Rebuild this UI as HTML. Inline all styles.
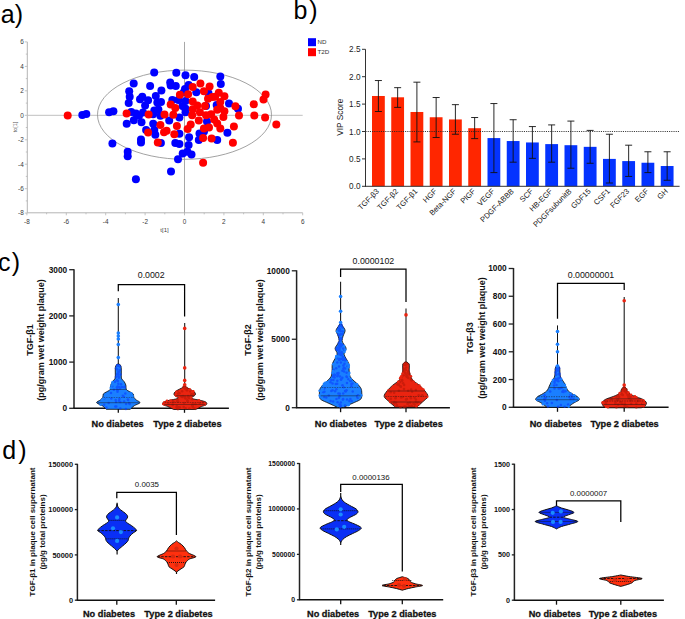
<!DOCTYPE html>
<html><head><meta charset="utf-8"><style>
html,body{margin:0;padding:0;background:#fff;}
svg{display:block;font-family:"Liberation Sans", sans-serif;}
</style></head><body>
<svg width="685" height="619" viewBox="0 0 685 619">
<text x="0.8" y="22.6" font-size="25" fill="#000">a<tspan dx="0.1">)</tspan></text>
<text x="293.6" y="18.7" font-size="25" fill="#000">b<tspan dx="1.7">)</tspan></text>
<text x="-2" y="270.8" font-size="25" fill="#000">c<tspan dx="1.3">)</tspan></text>
<text x="2.3" y="458.6" font-size="25" fill="#000">d<tspan dx="2.0">)</tspan></text>
<line x1="27.3" y1="41.9" x2="27.3" y2="212.8" stroke="#b4b4b4" stroke-width="1"/>
<line x1="27.3" y1="212.8" x2="302.7" y2="212.8" stroke="#b4b4b4" stroke-width="1"/>
<line x1="27.3" y1="115.3" x2="302.7" y2="115.3" stroke="#c0c0c0" stroke-width="1"/>
<line x1="184.5" y1="41.9" x2="184.5" y2="212.8" stroke="#a8a8a8" stroke-width="1"/>
<line x1="24.8" y1="213.1" x2="27.3" y2="213.1" stroke="#b4b4b4" stroke-width="0.8"/>
<line x1="26.9" y1="212.8" x2="26.9" y2="215.3" stroke="#b4b4b4" stroke-width="0.8"/>
<line x1="25.8" y1="200.9" x2="27.3" y2="200.9" stroke="#b4b4b4" stroke-width="0.8"/>
<line x1="46.6" y1="212.8" x2="46.6" y2="214.3" stroke="#b4b4b4" stroke-width="0.8"/>
<line x1="24.8" y1="188.7" x2="27.3" y2="188.7" stroke="#b4b4b4" stroke-width="0.8"/>
<line x1="66.3" y1="212.8" x2="66.3" y2="215.3" stroke="#b4b4b4" stroke-width="0.8"/>
<line x1="25.8" y1="176.4" x2="27.3" y2="176.4" stroke="#b4b4b4" stroke-width="0.8"/>
<line x1="86.0" y1="212.8" x2="86.0" y2="214.3" stroke="#b4b4b4" stroke-width="0.8"/>
<line x1="24.8" y1="164.2" x2="27.3" y2="164.2" stroke="#b4b4b4" stroke-width="0.8"/>
<line x1="105.7" y1="212.8" x2="105.7" y2="215.3" stroke="#b4b4b4" stroke-width="0.8"/>
<line x1="25.8" y1="152.0" x2="27.3" y2="152.0" stroke="#b4b4b4" stroke-width="0.8"/>
<line x1="125.4" y1="212.8" x2="125.4" y2="214.3" stroke="#b4b4b4" stroke-width="0.8"/>
<line x1="24.8" y1="139.8" x2="27.3" y2="139.8" stroke="#b4b4b4" stroke-width="0.8"/>
<line x1="145.1" y1="212.8" x2="145.1" y2="215.3" stroke="#b4b4b4" stroke-width="0.8"/>
<line x1="25.8" y1="127.5" x2="27.3" y2="127.5" stroke="#b4b4b4" stroke-width="0.8"/>
<line x1="164.8" y1="212.8" x2="164.8" y2="214.3" stroke="#b4b4b4" stroke-width="0.8"/>
<line x1="24.8" y1="115.3" x2="27.3" y2="115.3" stroke="#b4b4b4" stroke-width="0.8"/>
<line x1="184.5" y1="212.8" x2="184.5" y2="215.3" stroke="#b4b4b4" stroke-width="0.8"/>
<line x1="25.8" y1="103.1" x2="27.3" y2="103.1" stroke="#b4b4b4" stroke-width="0.8"/>
<line x1="204.2" y1="212.8" x2="204.2" y2="214.3" stroke="#b4b4b4" stroke-width="0.8"/>
<line x1="24.8" y1="90.8" x2="27.3" y2="90.8" stroke="#b4b4b4" stroke-width="0.8"/>
<line x1="223.9" y1="212.8" x2="223.9" y2="215.3" stroke="#b4b4b4" stroke-width="0.8"/>
<line x1="25.8" y1="78.6" x2="27.3" y2="78.6" stroke="#b4b4b4" stroke-width="0.8"/>
<line x1="243.6" y1="212.8" x2="243.6" y2="214.3" stroke="#b4b4b4" stroke-width="0.8"/>
<line x1="24.8" y1="66.4" x2="27.3" y2="66.4" stroke="#b4b4b4" stroke-width="0.8"/>
<line x1="263.3" y1="212.8" x2="263.3" y2="215.3" stroke="#b4b4b4" stroke-width="0.8"/>
<line x1="25.8" y1="54.1" x2="27.3" y2="54.1" stroke="#b4b4b4" stroke-width="0.8"/>
<line x1="283.0" y1="212.8" x2="283.0" y2="214.3" stroke="#b4b4b4" stroke-width="0.8"/>
<line x1="24.8" y1="41.9" x2="27.3" y2="41.9" stroke="#b4b4b4" stroke-width="0.8"/>
<line x1="302.7" y1="212.8" x2="302.7" y2="215.3" stroke="#b4b4b4" stroke-width="0.8"/>
<text x="23.8" y="215.4" font-size="6.4" fill="#383838" text-anchor="end">-8</text>
<text x="26.9" y="224.0" font-size="6.4" fill="#383838" text-anchor="middle">-8</text>
<text x="23.8" y="191.0" font-size="6.4" fill="#383838" text-anchor="end">-6</text>
<text x="66.3" y="224.0" font-size="6.4" fill="#383838" text-anchor="middle">-6</text>
<text x="23.8" y="166.5" font-size="6.4" fill="#383838" text-anchor="end">-4</text>
<text x="105.7" y="224.0" font-size="6.4" fill="#383838" text-anchor="middle">-4</text>
<text x="23.8" y="142.1" font-size="6.4" fill="#383838" text-anchor="end">-2</text>
<text x="145.1" y="224.0" font-size="6.4" fill="#383838" text-anchor="middle">-2</text>
<text x="23.8" y="117.6" font-size="6.4" fill="#383838" text-anchor="end">0</text>
<text x="184.5" y="224.0" font-size="6.4" fill="#383838" text-anchor="middle">0</text>
<text x="23.8" y="93.1" font-size="6.4" fill="#383838" text-anchor="end">2</text>
<text x="223.9" y="224.0" font-size="6.4" fill="#383838" text-anchor="middle">2</text>
<text x="23.8" y="68.7" font-size="6.4" fill="#383838" text-anchor="end">4</text>
<text x="263.3" y="224.0" font-size="6.4" fill="#383838" text-anchor="middle">4</text>
<text x="23.8" y="44.2" font-size="6.4" fill="#383838" text-anchor="end">6</text>
<text x="302.7" y="224.0" font-size="6.4" fill="#383838" text-anchor="middle">6</text>
<text x="164.5" y="231.8" font-size="6" fill="#444" text-anchor="middle">t[1]</text>
<text transform="translate(16.5,127) rotate(-90)" font-size="5.5" fill="#555" text-anchor="middle">to[1]</text>
<ellipse cx="184.5" cy="114.7" rx="87" ry="44.6" fill="none" stroke="#8a8a8a" stroke-width="0.8"/>
<g fill="#0000ff"><circle cx="82.3" cy="115.1" r="4"/><circle cx="86.3" cy="114" r="4"/><circle cx="109.1" cy="112.3" r="4"/><circle cx="113.4" cy="111.2" r="4"/><circle cx="133.7" cy="83.6" r="4"/><circle cx="150.1" cy="86" r="4"/><circle cx="129.2" cy="91.2" r="4"/><circle cx="129.7" cy="96.8" r="4"/><circle cx="128.7" cy="102.9" r="4"/><circle cx="154.2" cy="72.6" r="4"/><circle cx="161.4" cy="90.4" r="4"/><circle cx="155.8" cy="96.1" r="4"/><circle cx="142.3" cy="96.8" r="4"/><circle cx="131.3" cy="112.1" r="4"/><circle cx="135.9" cy="113.6" r="4"/><circle cx="133.8" cy="120.3" r="4"/><circle cx="126.7" cy="123.8" r="4"/><circle cx="141.5" cy="122.3" r="4"/><circle cx="140" cy="99.3" r="4"/><circle cx="148.1" cy="100.3" r="4"/><circle cx="145.1" cy="105.4" r="4"/><circle cx="143" cy="112.6" r="4"/><circle cx="139" cy="115.7" r="4"/><circle cx="157.3" cy="102.4" r="4"/><circle cx="154.3" cy="110.5" r="4"/><circle cx="158.4" cy="109.5" r="4"/><circle cx="160.4" cy="115.7" r="4"/><circle cx="153.2" cy="123.8" r="4"/><circle cx="146.1" cy="130" r="4"/><circle cx="154.3" cy="130" r="4"/><circle cx="155.3" cy="134.8" r="4"/><circle cx="141" cy="139.4" r="4"/><circle cx="141" cy="142.5" r="4"/><circle cx="112.4" cy="143.5" r="4"/><circle cx="127.7" cy="151.7" r="4"/><circle cx="127.7" cy="156.3" r="4"/><circle cx="160.9" cy="143" r="4"/><circle cx="176.3" cy="72.8" r="4"/><circle cx="185.5" cy="75.3" r="4"/><circle cx="194.2" cy="76.9" r="4"/><circle cx="220.3" cy="76.4" r="4"/><circle cx="220.8" cy="84" r="4"/><circle cx="170.2" cy="82.5" r="4"/><circle cx="175.8" cy="86.1" r="4"/><circle cx="188.6" cy="85" r="4"/><circle cx="185" cy="89.1" r="4"/><circle cx="196.3" cy="92.2" r="4"/><circle cx="208.5" cy="93.2" r="4"/><circle cx="172.3" cy="99.9" r="4"/><circle cx="178.4" cy="99.9" r="4"/><circle cx="185.5" cy="100.9" r="4"/><circle cx="216.7" cy="105" r="4"/><circle cx="229" cy="103.4" r="4"/><circle cx="161" cy="101.9" r="4"/><circle cx="169.2" cy="120.4" r="4"/><circle cx="179.4" cy="117.4" r="4"/><circle cx="185.5" cy="112.3" r="4"/><circle cx="182.5" cy="106.1" r="4"/><circle cx="179.4" cy="133.7" r="4"/><circle cx="175.3" cy="142.9" r="4"/><circle cx="179.4" cy="143.9" r="4"/><circle cx="189.1" cy="137.3" r="4"/><circle cx="188.6" cy="145" r="4"/><circle cx="198.8" cy="139.9" r="4"/><circle cx="217.2" cy="139.9" r="4"/><circle cx="227.4" cy="132.7" r="4"/><circle cx="206" cy="106.1" r="4"/><circle cx="207" cy="121.5" r="4"/><circle cx="182.7" cy="153.4" r="4"/><circle cx="187.4" cy="151.7" r="4"/><circle cx="191.5" cy="154.6" r="4"/><circle cx="178" cy="159.3" r="4"/><circle cx="171" cy="171.5" r="4"/><circle cx="135.9" cy="179.3" r="4"/><circle cx="199.5" cy="133.5" r="4"/><circle cx="204" cy="131.5" r="4"/><circle cx="238" cy="108.8" r="4"/><circle cx="183.8" cy="92.3" r="4"/><circle cx="170.7" cy="85.4" r="4"/><circle cx="153.1" cy="114.2" r="4"/><circle cx="185.3" cy="108.4" r="4"/></g>
<g fill="#ff0000"><circle cx="67.7" cy="115.6" r="4"/><circle cx="126.6" cy="113.4" r="4"/><circle cx="148.6" cy="114.6" r="4"/><circle cx="160.4" cy="124.9" r="4"/><circle cx="148.1" cy="132.5" r="4"/><circle cx="164.5" cy="114.6" r="4"/><circle cx="164" cy="132.3" r="4"/><circle cx="157.8" cy="142.5" r="4"/><circle cx="200.4" cy="83.5" r="4"/><circle cx="192.7" cy="87.1" r="4"/><circle cx="209.6" cy="86.6" r="4"/><circle cx="203.9" cy="91.2" r="4"/><circle cx="179.9" cy="94.7" r="4"/><circle cx="188.1" cy="94.2" r="4"/><circle cx="218.8" cy="92.7" r="4"/><circle cx="224.4" cy="96.3" r="4"/><circle cx="208" cy="98.8" r="4"/><circle cx="215.2" cy="96.8" r="4"/><circle cx="220.3" cy="101.9" r="4"/><circle cx="192.7" cy="101.4" r="4"/><circle cx="170.7" cy="104.5" r="4"/><circle cx="197.3" cy="105.5" r="4"/><circle cx="205" cy="106" r="4"/><circle cx="220.3" cy="108" r="4"/><circle cx="175.3" cy="108" r="4"/><circle cx="173.3" cy="114.8" r="4"/><circle cx="166.6" cy="130.7" r="4"/><circle cx="174.3" cy="134.2" r="4"/><circle cx="176.9" cy="126.1" r="4"/><circle cx="187.6" cy="129.1" r="4"/><circle cx="190.7" cy="124.5" r="4"/><circle cx="192.2" cy="115.3" r="4"/><circle cx="192.7" cy="109.2" r="4"/><circle cx="199.9" cy="112.3" r="4"/><circle cx="198.8" cy="120.4" r="4"/><circle cx="206" cy="115.3" r="4"/><circle cx="211.1" cy="114.3" r="4"/><circle cx="214.2" cy="119.4" r="4"/><circle cx="217.2" cy="123.5" r="4"/><circle cx="220.3" cy="128.6" r="4"/><circle cx="209" cy="127.6" r="4"/><circle cx="203.9" cy="128.6" r="4"/><circle cx="203.1" cy="137.9" r="4"/><circle cx="211.6" cy="138.6" r="4"/><circle cx="217.2" cy="109.7" r="4"/><circle cx="224.4" cy="111.2" r="4"/><circle cx="223.4" cy="116.9" r="4"/><circle cx="203.1" cy="162.8" r="4"/><circle cx="235.4" cy="106.3" r="4"/><circle cx="239" cy="115.5" r="4"/><circle cx="253.8" cy="104.2" r="4"/><circle cx="254.3" cy="115.5" r="4"/><circle cx="265.6" cy="94.5" r="4"/><circle cx="263.5" cy="99.6" r="4"/><circle cx="265.1" cy="117.5" r="4"/><circle cx="276.3" cy="124.4" r="4"/><circle cx="233.9" cy="126.5" r="4"/><circle cx="232.9" cy="142.8" r="4"/><circle cx="212.3" cy="97.1" r="4"/></g>
<rect x="308" y="38.2" width="8" height="8" fill="#0000ff"/>
<rect x="308" y="48.2" width="8" height="8" fill="#ff0000"/>
<text x="317.6" y="44.4" font-size="6.2" fill="#333">ND</text>
<text x="317.6" y="54.4" font-size="6.2" fill="#333">T2D</text>
<rect x="372.00" y="95.99" width="12.8" height="90.31" fill="#ff2600"/>
<rect x="391.25" y="97.30" width="12.8" height="89.00" fill="#ff2600"/>
<rect x="410.50" y="111.99" width="12.8" height="74.31" fill="#ff2600"/>
<rect x="429.75" y="117.25" width="12.8" height="69.05" fill="#ff2600"/>
<rect x="449.00" y="119.44" width="12.8" height="66.86" fill="#ff2600"/>
<rect x="468.25" y="128.21" width="12.8" height="58.09" fill="#ff2600"/>
<rect x="487.50" y="138.08" width="12.8" height="48.22" fill="#0433ff"/>
<rect x="506.75" y="141.04" width="12.8" height="45.26" fill="#0433ff"/>
<rect x="526.00" y="142.46" width="12.8" height="43.84" fill="#0433ff"/>
<rect x="545.25" y="144.10" width="12.8" height="42.20" fill="#0433ff"/>
<rect x="564.50" y="145.20" width="12.8" height="41.10" fill="#0433ff"/>
<rect x="583.75" y="146.84" width="12.8" height="39.46" fill="#0433ff"/>
<rect x="603.00" y="158.90" width="12.8" height="27.40" fill="#0433ff"/>
<rect x="622.25" y="161.09" width="12.8" height="25.21" fill="#0433ff"/>
<rect x="641.50" y="162.74" width="12.8" height="23.56" fill="#0433ff"/>
<rect x="660.75" y="166.02" width="12.8" height="20.28" fill="#0433ff"/>
<path d="M378.40 80.54V111.50M374.90 80.54h7M374.90 111.50h7" stroke="#111" stroke-width="0.9" fill="none"/>
<text transform="translate(379.60,191.8) rotate(-45)" font-size="7.6" text-anchor="end" fill="#111">TGF-β3</text>
<path d="M397.65 87.66V107.39M394.15 87.66h7M394.15 107.39h7" stroke="#111" stroke-width="0.9" fill="none"/>
<text transform="translate(398.85,191.8) rotate(-45)" font-size="7.6" text-anchor="end" fill="#111">TGF-β2</text>
<path d="M416.90 82.18V141.91M413.40 82.18h7M413.40 141.91h7" stroke="#111" stroke-width="0.9" fill="none"/>
<text transform="translate(418.10,191.8) rotate(-45)" font-size="7.6" text-anchor="end" fill="#111">TGF-β1</text>
<path d="M436.15 97.52V137.53M432.65 97.52h7M432.65 137.53h7" stroke="#111" stroke-width="0.9" fill="none"/>
<text transform="translate(437.35,191.8) rotate(-45)" font-size="7.6" text-anchor="end" fill="#111">HGF</text>
<path d="M455.40 104.65V134.24M451.90 104.65h7M451.90 134.24h7" stroke="#111" stroke-width="0.9" fill="none"/>
<text transform="translate(456.60,191.8) rotate(-45)" font-size="7.6" text-anchor="end" fill="#111">Beta-NGF</text>
<path d="M474.65 117.53V138.62M471.15 117.53h7M471.15 138.62h7" stroke="#111" stroke-width="0.9" fill="none"/>
<text transform="translate(475.85,191.8) rotate(-45)" font-size="7.6" text-anchor="end" fill="#111">PlGF</text>
<path d="M493.90 103.55V172.60M490.40 103.55h7M490.40 172.60h7" stroke="#111" stroke-width="0.9" fill="none"/>
<text transform="translate(495.10,191.8) rotate(-45)" font-size="7.6" text-anchor="end" fill="#111">VEGF</text>
<path d="M513.15 119.72V162.19M509.65 119.72h7M509.65 162.19h7" stroke="#111" stroke-width="0.9" fill="none"/>
<text transform="translate(514.35,191.8) rotate(-45)" font-size="7.6" text-anchor="end" fill="#111">PDGF-ABBB</text>
<path d="M532.40 126.57V158.35M528.90 126.57h7M528.90 158.35h7" stroke="#111" stroke-width="0.9" fill="none"/>
<text transform="translate(533.60,191.8) rotate(-45)" font-size="7.6" text-anchor="end" fill="#111">SCF</text>
<path d="M551.65 124.92V162.19M548.15 124.92h7M548.15 162.19h7" stroke="#111" stroke-width="0.9" fill="none"/>
<text transform="translate(552.85,191.8) rotate(-45)" font-size="7.6" text-anchor="end" fill="#111">HB-EGF</text>
<path d="M570.90 121.09V168.22M567.40 121.09h7M567.40 168.22h7" stroke="#111" stroke-width="0.9" fill="none"/>
<text transform="translate(572.10,191.8) rotate(-45)" font-size="7.6" text-anchor="end" fill="#111">PDGFsubunitB</text>
<path d="M590.15 130.40V163.28M586.65 130.40h7M586.65 163.28h7" stroke="#111" stroke-width="0.9" fill="none"/>
<text transform="translate(591.35,191.8) rotate(-45)" font-size="7.6" text-anchor="end" fill="#111">GDF15</text>
<path d="M609.40 134.24V183.01M605.90 134.24h7M605.90 183.01h7" stroke="#111" stroke-width="0.9" fill="none"/>
<text transform="translate(610.60,191.8) rotate(-45)" font-size="7.6" text-anchor="end" fill="#111">CSF1</text>
<path d="M628.65 145.20V176.44M625.15 145.20h7M625.15 176.44h7" stroke="#111" stroke-width="0.9" fill="none"/>
<text transform="translate(629.85,191.8) rotate(-45)" font-size="7.6" text-anchor="end" fill="#111">FGF23</text>
<path d="M647.90 151.78V172.60M644.40 151.78h7M644.40 172.60h7" stroke="#111" stroke-width="0.9" fill="none"/>
<text transform="translate(649.10,191.8) rotate(-45)" font-size="7.6" text-anchor="end" fill="#111">EGF</text>
<path d="M667.15 151.78V180.27M663.65 151.78h7M663.65 180.27h7" stroke="#111" stroke-width="0.9" fill="none"/>
<text transform="translate(668.35,191.8) rotate(-45)" font-size="7.6" text-anchor="end" fill="#111">GH</text>
<line x1="365.5" y1="131.50" x2="679.6" y2="131.50" stroke="#222" stroke-width="0.9" stroke-dasharray="1.1 1.1"/>
<line x1="365.5" y1="49.30" x2="365.5" y2="186.8" stroke="#333" stroke-width="1"/>
<line x1="365" y1="186.3" x2="679.6" y2="186.3" stroke="#333" stroke-width="1"/>
<line x1="362" y1="186.30" x2="365.5" y2="186.30" stroke="#333" stroke-width="1"/>
<text x="360.5" y="189.30" font-size="8.2" text-anchor="end" fill="#222">0.0</text>
<line x1="362" y1="158.90" x2="365.5" y2="158.90" stroke="#333" stroke-width="1"/>
<text x="360.5" y="161.90" font-size="8.2" text-anchor="end" fill="#222">0.5</text>
<line x1="362" y1="131.50" x2="365.5" y2="131.50" stroke="#333" stroke-width="1"/>
<text x="360.5" y="134.50" font-size="8.2" text-anchor="end" fill="#222">1.0</text>
<line x1="362" y1="104.10" x2="365.5" y2="104.10" stroke="#333" stroke-width="1"/>
<text x="360.5" y="107.10" font-size="8.2" text-anchor="end" fill="#222">1.5</text>
<line x1="362" y1="76.70" x2="365.5" y2="76.70" stroke="#333" stroke-width="1"/>
<text x="360.5" y="79.70" font-size="8.2" text-anchor="end" fill="#222">2.0</text>
<line x1="362" y1="49.30" x2="365.5" y2="49.30" stroke="#333" stroke-width="1"/>
<text x="360.5" y="52.30" font-size="8.2" text-anchor="end" fill="#222">2.5</text>
<text transform="translate(342.8,117.2) rotate(-90)" font-size="8.3" text-anchor="middle" fill="#222">VIP Score</text>
<line x1="74" y1="269.2" x2="74" y2="408.3" stroke="#222" stroke-width="1.5"/>
<line x1="73.25" y1="408.3" x2="228.9" y2="408.3" stroke="#111" stroke-width="1.5"/>
<line x1="69.2" y1="408.30" x2="74" y2="408.30" stroke="#222" stroke-width="1.3"/>
<text x="67.2" y="411.29" font-size="8.3" font-weight="bold" text-anchor="end" fill="#111">0</text>
<line x1="69.2" y1="362.10" x2="74" y2="362.10" stroke="#222" stroke-width="1.3"/>
<text x="67.2" y="365.09" font-size="8.3" font-weight="bold" text-anchor="end" fill="#111">1000</text>
<line x1="69.2" y1="315.90" x2="74" y2="315.90" stroke="#222" stroke-width="1.3"/>
<text x="67.2" y="318.89" font-size="8.3" font-weight="bold" text-anchor="end" fill="#111">2000</text>
<line x1="69.2" y1="269.70" x2="74" y2="269.70" stroke="#222" stroke-width="1.3"/>
<text x="67.2" y="272.69" font-size="8.3" font-weight="bold" text-anchor="end" fill="#111">3000</text>
<line x1="118.3" y1="408.3" x2="118.3" y2="412.8" stroke="#111" stroke-width="1.3"/>
<line x1="184.5" y1="408.3" x2="184.5" y2="412.8" stroke="#111" stroke-width="1.3"/>
<text transform="translate(32.5,340) rotate(-90)" font-size="9" font-weight="bold" text-anchor="middle" fill="#111">TGF-β1</text>
<text transform="translate(44.3,340) rotate(-90)" font-size="9" font-weight="bold" text-anchor="middle" fill="#111">(pg/gram wet weight plaque)</text>
<text transform="translate(117.6,426.6) scale(0.926,1)" font-size="9.94" font-weight="bold" text-anchor="middle" fill="#111" stroke="#111" stroke-width="0.3">No diabetes</text>
<text transform="translate(187.4,426.6) scale(0.926,1)" font-size="9.94" font-weight="bold" text-anchor="middle" fill="#111" stroke="#111" stroke-width="0.3">Type 2 diabetes</text>
<path d="M118.3 291.3V284.5H184.6V316.5" stroke="#000" stroke-width="1.25" fill="none"/>
<text x="151.2" y="278.4" font-size="8.8" text-anchor="middle" fill="#111">0.0002</text>
<line x1="118.3" y1="298" x2="118.3" y2="366" stroke="#111" stroke-width="1.05"/>
<path d="M119.30 364.00C119.57 364.33 120.57 365.17 120.90 366.00C121.23 366.83 121.23 367.83 121.30 369.00C121.37 370.17 121.30 371.67 121.30 373.00C121.30 374.33 121.22 376.00 121.30 377.00C121.38 378.00 121.33 378.23 121.80 379.00C122.27 379.77 123.43 380.60 124.10 381.60C124.77 382.60 125.40 383.67 125.80 385.00C126.20 386.33 125.75 388.43 126.50 389.60C127.25 390.77 129.17 391.27 130.30 392.00C131.43 392.73 132.72 393.12 133.30 394.00C133.88 394.88 133.30 396.30 133.80 397.30C134.30 398.30 135.27 399.10 136.30 400.00C137.33 400.90 140.33 401.75 140.00 402.70C139.67 403.65 135.92 404.60 134.30 405.70C132.68 406.80 130.97 408.70 130.30 409.30L106.30 409.30C105.63 408.70 103.92 406.80 102.30 405.70C100.68 404.60 96.93 403.65 96.60 402.70C96.27 401.75 99.27 400.90 100.30 400.00C101.33 399.10 102.30 398.30 102.80 397.30C103.30 396.30 102.72 394.88 103.30 394.00C103.88 393.12 105.17 392.73 106.30 392.00C107.43 391.27 109.35 390.77 110.10 389.60C110.85 388.43 110.40 386.33 110.80 385.00C111.20 383.67 111.83 382.60 112.50 381.60C113.17 380.60 114.33 379.77 114.80 379.00C115.27 378.23 115.22 378.00 115.30 377.00C115.38 376.00 115.30 374.33 115.30 373.00C115.30 371.67 115.23 370.17 115.30 369.00C115.37 367.83 115.37 366.83 115.70 366.00C116.03 365.17 117.03 364.33 117.30 364.00Z" fill="#1a7fff" stroke="#111" stroke-width="0.85"/>
<g fill="#0a3cff" opacity="0.6"><circle cx="120.1" cy="370.1" r="1.25"/><circle cx="111.3" cy="398.6" r="1.25"/><circle cx="117.6" cy="386.4" r="1.25"/><circle cx="125.3" cy="393.5" r="1.25"/><circle cx="116.0" cy="368.3" r="1.25"/><circle cx="116.0" cy="401.9" r="1.25"/><circle cx="104.2" cy="398.5" r="1.25"/><circle cx="121.0" cy="384.2" r="1.25"/><circle cx="120.6" cy="374.4" r="1.25"/><circle cx="104.2" cy="404.8" r="1.25"/><circle cx="118.4" cy="365.2" r="1.25"/><circle cx="115.3" cy="406.5" r="1.25"/><circle cx="117.9" cy="373.8" r="1.25"/><circle cx="117.3" cy="365.3" r="1.25"/><circle cx="118.3" cy="383.8" r="1.25"/><circle cx="116.9" cy="374.6" r="1.25"/><circle cx="118.1" cy="373.9" r="1.25"/><circle cx="115.8" cy="377.1" r="1.25"/><circle cx="120.3" cy="401.9" r="1.25"/><circle cx="111.0" cy="393.1" r="1.25"/><circle cx="125.9" cy="409.0" r="1.25"/><circle cx="117.4" cy="369.5" r="1.25"/><circle cx="123.8" cy="396.7" r="1.25"/><circle cx="116.3" cy="406.4" r="1.25"/><circle cx="124.1" cy="401.6" r="1.25"/><circle cx="118.8" cy="377.7" r="1.25"/><circle cx="129.6" cy="404.0" r="1.25"/><circle cx="119.5" cy="386.9" r="1.25"/><circle cx="117.3" cy="365.6" r="1.25"/><circle cx="115.7" cy="400.1" r="1.25"/><circle cx="118.5" cy="371.8" r="1.25"/><circle cx="122.8" cy="395.8" r="1.25"/><circle cx="117.8" cy="381.0" r="1.25"/><circle cx="122.0" cy="387.0" r="1.25"/><circle cx="116.9" cy="387.6" r="1.25"/><circle cx="112.2" cy="386.2" r="1.25"/><circle cx="119.2" cy="366.0" r="1.25"/><circle cx="120.3" cy="408.5" r="1.25"/><circle cx="115.0" cy="381.8" r="1.25"/><circle cx="124.7" cy="386.8" r="1.25"/><circle cx="119.4" cy="398.9" r="1.25"/><circle cx="108.7" cy="403.0" r="1.25"/><circle cx="124.3" cy="387.3" r="1.25"/><circle cx="117.7" cy="390.2" r="1.25"/><circle cx="118.5" cy="376.2" r="1.25"/><circle cx="106.4" cy="407.4" r="1.25"/><circle cx="127.9" cy="399.5" r="1.25"/><circle cx="126.1" cy="404.1" r="1.25"/><circle cx="118.9" cy="400.7" r="1.25"/><circle cx="117.3" cy="389.4" r="1.25"/><circle cx="120.0" cy="366.5" r="1.25"/><circle cx="113.9" cy="389.8" r="1.25"/><circle cx="118.1" cy="386.9" r="1.25"/><circle cx="117.1" cy="380.2" r="1.25"/><circle cx="120.0" cy="388.4" r="1.25"/><circle cx="117.5" cy="391.7" r="1.25"/><circle cx="117.4" cy="365.3" r="1.25"/><circle cx="118.7" cy="372.0" r="1.25"/><circle cx="129.0" cy="403.0" r="1.25"/><circle cx="128.1" cy="400.1" r="1.25"/></g>
<g fill="#1a7fff"><circle cx="100.3" cy="402.1" r="1.3"/><circle cx="103.7" cy="398.2" r="1.3"/><circle cx="101.9" cy="400.1" r="1.3"/><circle cx="110.8" cy="387.9" r="1.3"/><circle cx="131.2" cy="393.4" r="1.3"/><circle cx="111.5" cy="385.5" r="1.3"/><circle cx="134.0" cy="400.1" r="1.3"/><circle cx="100.6" cy="404.8" r="1.3"/><circle cx="112.3" cy="383.6" r="1.3"/><circle cx="112.6" cy="382.0" r="1.3"/><circle cx="132.5" cy="395.9" r="1.3"/></g>
<ellipse cx="118.3" cy="304.5" rx="1.8" ry="1.8" fill="#1a7fff"/>
<ellipse cx="118.3" cy="333" rx="1.8" ry="1.8" fill="#1a7fff"/>
<ellipse cx="118.3" cy="336" rx="1.8" ry="1.8" fill="#1a7fff"/>
<ellipse cx="118.3" cy="339" rx="1.8" ry="1.8" fill="#1a7fff"/>
<ellipse cx="118.3" cy="344.5" rx="1.8" ry="1.8" fill="#1a7fff"/>
<ellipse cx="118.3" cy="357.6" rx="1.8" ry="1.8" fill="#1a7fff"/>
<line x1="103.58" y1="397.3" x2="133.03" y2="397.3" stroke="#1a1a1a" stroke-width="0.6" opacity="0.8" stroke-dasharray="1.5 1"/>
<line x1="110.51" y1="389.6" x2="126.09" y2="389.6" stroke="#1a1a1a" stroke-width="0.6" opacity="0.8"/>
<line x1="97.69" y1="402.7" x2="138.91" y2="402.7" stroke="#1a1a1a" stroke-width="0.6" opacity="0.8"/>
<line x1="184.7" y1="323" x2="184.7" y2="388" stroke="#111" stroke-width="1.05"/>
<path d="M185.50 386.00C185.70 386.25 186.00 387.00 186.70 387.50C187.40 388.00 188.62 388.42 189.70 389.00C190.78 389.58 192.28 390.33 193.20 391.00C194.12 391.67 194.87 392.33 195.20 393.00C195.53 393.67 195.53 394.42 195.20 395.00C194.87 395.58 193.87 396.03 193.20 396.50C192.53 396.97 191.12 397.38 191.20 397.80C191.28 398.22 192.45 398.63 193.70 399.00C194.95 399.37 196.87 399.58 198.70 400.00C200.53 400.42 203.37 401.00 204.70 401.50C206.03 402.00 206.45 402.45 206.70 403.00C206.95 403.55 207.03 404.22 206.20 404.80C205.37 405.38 202.95 405.97 201.70 406.50C200.45 407.03 199.70 407.50 198.70 408.00C197.70 408.50 196.20 409.25 195.70 409.50L173.70 409.50C173.20 409.25 171.70 408.50 170.70 408.00C169.70 407.50 168.95 407.03 167.70 406.50C166.45 405.97 164.03 405.38 163.20 404.80C162.37 404.22 162.45 403.55 162.70 403.00C162.95 402.45 163.37 402.00 164.70 401.50C166.03 401.00 168.87 400.42 170.70 400.00C172.53 399.58 174.45 399.37 175.70 399.00C176.95 398.63 178.12 398.22 178.20 397.80C178.28 397.38 176.87 396.97 176.20 396.50C175.53 396.03 174.53 395.58 174.20 395.00C173.87 394.42 173.87 393.67 174.20 393.00C174.53 392.33 175.28 391.67 176.20 391.00C177.12 390.33 178.62 389.58 179.70 389.00C180.78 388.42 182.00 388.00 182.70 387.50C183.40 387.00 183.70 386.25 183.90 386.00Z" fill="#ea2410" stroke="#111" stroke-width="0.85"/>
<g fill="#b81808" opacity="0.6"><circle cx="194.6" cy="408.5" r="1.25"/><circle cx="183.4" cy="387.3" r="1.25"/><circle cx="192.4" cy="405.6" r="1.25"/><circle cx="178.1" cy="401.7" r="1.25"/><circle cx="187.4" cy="400.2" r="1.25"/><circle cx="177.6" cy="399.7" r="1.25"/><circle cx="183.1" cy="396.1" r="1.25"/><circle cx="203.2" cy="403.0" r="1.25"/><circle cx="185.7" cy="408.3" r="1.25"/><circle cx="181.3" cy="396.5" r="1.25"/><circle cx="183.5" cy="386.8" r="1.25"/><circle cx="182.3" cy="396.9" r="1.25"/><circle cx="191.7" cy="394.9" r="1.25"/><circle cx="185.5" cy="398.4" r="1.25"/><circle cx="177.4" cy="391.5" r="1.25"/><circle cx="178.2" cy="393.6" r="1.25"/><circle cx="190.5" cy="398.0" r="1.25"/><circle cx="173.6" cy="401.9" r="1.25"/><circle cx="192.8" cy="407.0" r="1.25"/><circle cx="199.9" cy="403.3" r="1.25"/><circle cx="195.4" cy="403.9" r="1.25"/><circle cx="193.3" cy="394.3" r="1.25"/><circle cx="177.3" cy="408.6" r="1.25"/><circle cx="192.7" cy="403.7" r="1.25"/><circle cx="185.1" cy="396.8" r="1.25"/><circle cx="189.7" cy="397.5" r="1.25"/><circle cx="188.4" cy="397.8" r="1.25"/><circle cx="191.5" cy="394.3" r="1.25"/><circle cx="183.7" cy="407.1" r="1.25"/><circle cx="192.3" cy="399.3" r="1.25"/><circle cx="184.2" cy="403.0" r="1.25"/><circle cx="182.1" cy="391.2" r="1.25"/><circle cx="172.6" cy="402.4" r="1.25"/><circle cx="178.7" cy="407.3" r="1.25"/><circle cx="179.8" cy="407.4" r="1.25"/><circle cx="189.3" cy="408.5" r="1.25"/><circle cx="184.9" cy="397.8" r="1.25"/><circle cx="187.6" cy="401.3" r="1.25"/><circle cx="179.5" cy="393.3" r="1.25"/><circle cx="189.9" cy="398.0" r="1.25"/><circle cx="172.7" cy="400.6" r="1.25"/><circle cx="192.5" cy="405.3" r="1.25"/><circle cx="176.7" cy="407.3" r="1.25"/><circle cx="168.3" cy="403.5" r="1.25"/><circle cx="177.2" cy="401.3" r="1.25"/><circle cx="190.3" cy="391.3" r="1.25"/><circle cx="184.9" cy="388.5" r="1.25"/><circle cx="176.8" cy="406.1" r="1.25"/><circle cx="190.1" cy="390.9" r="1.25"/><circle cx="188.1" cy="395.9" r="1.25"/><circle cx="184.4" cy="386.7" r="1.25"/><circle cx="186.7" cy="390.0" r="1.25"/><circle cx="186.9" cy="387.9" r="1.25"/><circle cx="185.2" cy="386.6" r="1.25"/><circle cx="184.2" cy="386.5" r="1.25"/><circle cx="172.7" cy="405.1" r="1.25"/><circle cx="187.1" cy="390.3" r="1.25"/><circle cx="176.6" cy="395.1" r="1.25"/><circle cx="177.9" cy="409.3" r="1.25"/><circle cx="184.3" cy="386.9" r="1.25"/></g>
<g fill="#ea2410"><circle cx="170.6" cy="400.5" r="1.3"/><circle cx="191.1" cy="397.5" r="1.3"/><circle cx="163.3" cy="404.0" r="1.3"/><circle cx="164.6" cy="403.8" r="1.3"/><circle cx="193.3" cy="391.3" r="1.3"/><circle cx="164.7" cy="404.5" r="1.3"/><circle cx="204.7" cy="404.4" r="1.3"/><circle cx="189.7" cy="389.4" r="1.3"/><circle cx="198.9" cy="400.2" r="1.3"/><circle cx="164.5" cy="402.4" r="1.3"/><circle cx="176.4" cy="391.9" r="1.3"/><circle cx="167.0" cy="400.9" r="1.3"/><circle cx="192.4" cy="391.5" r="1.3"/><circle cx="192.6" cy="391.4" r="1.3"/><circle cx="176.6" cy="395.9" r="1.3"/><circle cx="175.6" cy="395.0" r="1.3"/><circle cx="165.7" cy="403.0" r="1.3"/></g>
<ellipse cx="184.7" cy="328.4" rx="1.8" ry="1.8" fill="#ea2410"/>
<ellipse cx="184.7" cy="367.9" rx="1.8" ry="1.8" fill="#ea2410"/>
<ellipse cx="184.7" cy="380.4" rx="1.8" ry="1.8" fill="#ea2410"/>
<ellipse cx="184.7" cy="384.7" rx="1.8" ry="1.8" fill="#ea2410"/>
<line x1="164.69" y1="402.3" x2="204.71" y2="402.3" stroke="#1a1a1a" stroke-width="0.6" opacity="0.8" stroke-dasharray="1.5 1"/>
<line x1="175.61" y1="395.7" x2="193.79" y2="395.7" stroke="#1a1a1a" stroke-width="0.6" opacity="0.8"/>
<line x1="164.22" y1="404.6" x2="205.18" y2="404.6" stroke="#1a1a1a" stroke-width="0.6" opacity="0.8"/>
<line x1="296.6" y1="270.3" x2="296.6" y2="407.7" stroke="#222" stroke-width="1.5"/>
<line x1="295.85" y1="407.7" x2="449.9" y2="407.7" stroke="#111" stroke-width="1.5"/>
<line x1="291.8" y1="407.70" x2="296.6" y2="407.70" stroke="#222" stroke-width="1.3"/>
<text x="289.8" y="410.69" font-size="8.3" font-weight="bold" text-anchor="end" fill="#111">0</text>
<line x1="291.8" y1="339.25" x2="296.6" y2="339.25" stroke="#222" stroke-width="1.3"/>
<text x="289.8" y="342.24" font-size="8.3" font-weight="bold" text-anchor="end" fill="#111">5000</text>
<line x1="291.8" y1="270.80" x2="296.6" y2="270.80" stroke="#222" stroke-width="1.3"/>
<text x="289.8" y="273.79" font-size="8.3" font-weight="bold" text-anchor="end" fill="#111">10000</text>
<line x1="340.6" y1="407.7" x2="340.6" y2="412.2" stroke="#111" stroke-width="1.3"/>
<line x1="406" y1="407.7" x2="406" y2="412.2" stroke="#111" stroke-width="1.3"/>
<text transform="translate(251.2,340) rotate(-90)" font-size="9" font-weight="bold" text-anchor="middle" fill="#111">TGF-β2</text>
<text transform="translate(262.9,340) rotate(-90)" font-size="9" font-weight="bold" text-anchor="middle" fill="#111">(pg/gram wet weight plaque)</text>
<text transform="translate(340.8,426.6) scale(0.926,1)" font-size="9.94" font-weight="bold" text-anchor="middle" fill="#111" stroke="#111" stroke-width="0.3">No diabetes</text>
<text transform="translate(408.7,426.6) scale(0.926,1)" font-size="9.94" font-weight="bold" text-anchor="middle" fill="#111" stroke="#111" stroke-width="0.3">Type 2 diabetes</text>
<path d="M340.6 276.9V269H406V302" stroke="#000" stroke-width="1.25" fill="none"/>
<text x="373.4" y="263.5" font-size="8.8" text-anchor="middle" fill="#111">0.0000102</text>
<line x1="340.6" y1="281.8" x2="340.6" y2="326" stroke="#111" stroke-width="1.05"/>
<path d="M341.40 324.00C341.60 324.33 341.98 324.92 342.60 326.00C343.22 327.08 345.02 328.83 345.10 330.50C345.18 332.17 343.60 334.30 343.10 336.00C342.60 337.70 342.02 339.37 342.10 340.70C342.18 342.03 342.93 342.68 343.60 344.00C344.27 345.32 346.02 346.88 346.10 348.60C346.18 350.32 343.68 351.85 344.10 354.30C344.52 356.75 347.77 360.68 348.60 363.30C349.43 365.92 348.93 368.05 349.10 370.00C349.27 371.95 349.27 373.67 349.60 375.00C349.93 376.33 350.35 377.00 351.10 378.00C351.85 379.00 353.10 380.05 354.10 381.00C355.10 381.95 356.10 382.70 357.10 383.70C358.10 384.70 359.35 385.87 360.10 387.00C360.85 388.13 361.35 388.78 361.60 390.50C361.85 392.22 361.93 395.72 361.60 397.30C361.27 398.88 361.02 399.05 359.60 400.00C358.18 400.95 355.10 402.08 353.10 403.00C351.10 403.92 349.18 404.75 347.60 405.50C346.02 406.25 344.27 407.17 343.60 407.50L337.60 407.50C336.93 407.17 335.18 406.25 333.60 405.50C332.02 404.75 330.10 403.92 328.10 403.00C326.10 402.08 323.02 400.95 321.60 400.00C320.18 399.05 319.93 398.88 319.60 397.30C319.27 395.72 319.35 392.22 319.60 390.50C319.85 388.78 320.35 388.13 321.10 387.00C321.85 385.87 323.10 384.70 324.10 383.70C325.10 382.70 326.10 381.95 327.10 381.00C328.10 380.05 329.35 379.00 330.10 378.00C330.85 377.00 331.27 376.33 331.60 375.00C331.93 373.67 331.93 371.95 332.10 370.00C332.27 368.05 331.77 365.92 332.60 363.30C333.43 360.68 336.68 356.75 337.10 354.30C337.52 351.85 335.02 350.32 335.10 348.60C335.18 346.88 336.93 345.32 337.60 344.00C338.27 342.68 339.02 342.03 339.10 340.70C339.18 339.37 338.60 337.70 338.10 336.00C337.60 334.30 336.02 332.17 336.10 330.50C336.18 328.83 337.98 327.08 338.60 326.00C339.22 324.92 339.60 324.33 339.80 324.00Z" fill="#1a7fff" stroke="#111" stroke-width="0.85"/>
<g fill="#0a3cff" opacity="0.6"><circle cx="340.8" cy="343.9" r="1.25"/><circle cx="341.3" cy="354.9" r="1.25"/><circle cx="333.5" cy="376.2" r="1.25"/><circle cx="341.4" cy="325.1" r="1.25"/><circle cx="338.8" cy="345.7" r="1.25"/><circle cx="340.4" cy="407.1" r="1.25"/><circle cx="339.8" cy="393.8" r="1.25"/><circle cx="334.6" cy="377.4" r="1.25"/><circle cx="346.9" cy="377.0" r="1.25"/><circle cx="344.0" cy="367.7" r="1.25"/><circle cx="331.3" cy="380.1" r="1.25"/><circle cx="343.6" cy="387.3" r="1.25"/><circle cx="336.4" cy="349.2" r="1.25"/><circle cx="339.6" cy="396.3" r="1.25"/><circle cx="351.4" cy="384.0" r="1.25"/><circle cx="352.4" cy="383.6" r="1.25"/><circle cx="343.1" cy="357.0" r="1.25"/><circle cx="345.7" cy="361.1" r="1.25"/><circle cx="326.3" cy="397.4" r="1.25"/><circle cx="339.3" cy="335.4" r="1.25"/><circle cx="339.6" cy="404.6" r="1.25"/><circle cx="337.3" cy="376.3" r="1.25"/><circle cx="339.0" cy="366.4" r="1.25"/><circle cx="341.2" cy="353.3" r="1.25"/><circle cx="346.6" cy="372.8" r="1.25"/><circle cx="350.4" cy="380.9" r="1.25"/><circle cx="358.1" cy="395.5" r="1.25"/><circle cx="333.4" cy="380.1" r="1.25"/><circle cx="357.2" cy="395.9" r="1.25"/><circle cx="342.9" cy="399.5" r="1.25"/><circle cx="332.5" cy="383.6" r="1.25"/><circle cx="343.2" cy="393.4" r="1.25"/><circle cx="336.8" cy="347.8" r="1.25"/><circle cx="358.1" cy="395.3" r="1.25"/><circle cx="342.7" cy="331.4" r="1.25"/><circle cx="337.3" cy="358.3" r="1.25"/><circle cx="343.1" cy="348.5" r="1.25"/><circle cx="324.3" cy="396.9" r="1.25"/><circle cx="333.5" cy="375.3" r="1.25"/><circle cx="335.8" cy="384.0" r="1.25"/><circle cx="357.6" cy="397.6" r="1.25"/><circle cx="347.6" cy="366.2" r="1.25"/><circle cx="337.0" cy="349.9" r="1.25"/><circle cx="333.5" cy="374.1" r="1.25"/><circle cx="340.4" cy="340.5" r="1.25"/><circle cx="335.3" cy="375.0" r="1.25"/><circle cx="342.4" cy="327.5" r="1.25"/><circle cx="344.4" cy="350.2" r="1.25"/><circle cx="336.5" cy="398.9" r="1.25"/><circle cx="340.9" cy="362.4" r="1.25"/><circle cx="342.3" cy="377.8" r="1.25"/><circle cx="342.4" cy="370.7" r="1.25"/><circle cx="340.8" cy="402.5" r="1.25"/><circle cx="343.0" cy="360.0" r="1.25"/><circle cx="339.6" cy="343.8" r="1.25"/><circle cx="340.8" cy="405.6" r="1.25"/><circle cx="333.6" cy="369.8" r="1.25"/><circle cx="341.4" cy="358.7" r="1.25"/><circle cx="341.0" cy="325.7" r="1.25"/><circle cx="333.2" cy="376.8" r="1.25"/><circle cx="340.0" cy="376.4" r="1.25"/><circle cx="337.3" cy="380.7" r="1.25"/><circle cx="347.0" cy="383.0" r="1.25"/><circle cx="339.2" cy="325.9" r="1.25"/><circle cx="350.8" cy="380.4" r="1.25"/><circle cx="340.3" cy="345.0" r="1.25"/><circle cx="337.9" cy="373.5" r="1.25"/><circle cx="339.5" cy="354.4" r="1.25"/><circle cx="341.2" cy="354.8" r="1.25"/><circle cx="339.5" cy="349.1" r="1.25"/><circle cx="324.4" cy="388.5" r="1.25"/><circle cx="344.1" cy="371.5" r="1.25"/><circle cx="338.2" cy="349.9" r="1.25"/><circle cx="331.3" cy="391.1" r="1.25"/><circle cx="340.4" cy="339.6" r="1.25"/><circle cx="330.5" cy="382.3" r="1.25"/><circle cx="339.3" cy="350.9" r="1.25"/><circle cx="338.4" cy="393.6" r="1.25"/><circle cx="328.8" cy="395.4" r="1.25"/><circle cx="341.7" cy="352.1" r="1.25"/><circle cx="338.9" cy="397.9" r="1.25"/><circle cx="339.0" cy="342.8" r="1.25"/><circle cx="336.2" cy="368.2" r="1.25"/><circle cx="352.7" cy="391.4" r="1.25"/><circle cx="339.9" cy="339.3" r="1.25"/><circle cx="345.7" cy="391.4" r="1.25"/><circle cx="335.1" cy="391.3" r="1.25"/><circle cx="339.6" cy="334.8" r="1.25"/><circle cx="332.5" cy="390.3" r="1.25"/><circle cx="340.0" cy="352.9" r="1.25"/><circle cx="339.7" cy="359.1" r="1.25"/><circle cx="330.6" cy="400.9" r="1.25"/><circle cx="341.4" cy="324.4" r="1.25"/><circle cx="357.9" cy="397.5" r="1.25"/><circle cx="345.6" cy="360.3" r="1.25"/><circle cx="333.1" cy="401.4" r="1.25"/><circle cx="351.4" cy="386.3" r="1.25"/><circle cx="341.0" cy="379.4" r="1.25"/><circle cx="339.2" cy="348.1" r="1.25"/><circle cx="338.7" cy="343.0" r="1.25"/><circle cx="337.4" cy="373.2" r="1.25"/><circle cx="324.4" cy="391.7" r="1.25"/><circle cx="347.0" cy="399.5" r="1.25"/><circle cx="351.7" cy="401.1" r="1.25"/><circle cx="343.2" cy="399.1" r="1.25"/><circle cx="341.2" cy="325.1" r="1.25"/><circle cx="339.9" cy="338.3" r="1.25"/><circle cx="341.1" cy="379.4" r="1.25"/><circle cx="344.8" cy="358.5" r="1.25"/><circle cx="338.2" cy="375.1" r="1.25"/><circle cx="342.8" cy="345.1" r="1.25"/><circle cx="344.5" cy="363.8" r="1.25"/><circle cx="338.6" cy="353.4" r="1.25"/><circle cx="345.1" cy="368.6" r="1.25"/><circle cx="341.6" cy="338.3" r="1.25"/><circle cx="349.4" cy="401.0" r="1.25"/><circle cx="323.0" cy="392.8" r="1.25"/><circle cx="346.6" cy="376.5" r="1.25"/><circle cx="339.4" cy="328.2" r="1.25"/><circle cx="340.8" cy="346.4" r="1.25"/><circle cx="340.3" cy="359.3" r="1.25"/><circle cx="323.4" cy="388.8" r="1.25"/><circle cx="338.4" cy="328.6" r="1.25"/><circle cx="338.3" cy="334.4" r="1.25"/><circle cx="345.0" cy="405.4" r="1.25"/><circle cx="340.6" cy="331.2" r="1.25"/><circle cx="339.1" cy="350.4" r="1.25"/><circle cx="341.6" cy="353.3" r="1.25"/><circle cx="338.5" cy="373.0" r="1.25"/><circle cx="340.1" cy="340.0" r="1.25"/><circle cx="340.9" cy="334.3" r="1.25"/><circle cx="337.2" cy="383.8" r="1.25"/><circle cx="338.2" cy="330.7" r="1.25"/><circle cx="341.3" cy="355.2" r="1.25"/><circle cx="336.4" cy="389.3" r="1.25"/><circle cx="345.0" cy="390.9" r="1.25"/><circle cx="339.2" cy="360.0" r="1.25"/><circle cx="343.4" cy="365.4" r="1.25"/><circle cx="342.5" cy="359.1" r="1.25"/><circle cx="337.3" cy="362.5" r="1.25"/><circle cx="343.4" cy="368.7" r="1.25"/><circle cx="340.1" cy="330.0" r="1.25"/><circle cx="344.6" cy="359.6" r="1.25"/><circle cx="337.6" cy="402.2" r="1.25"/><circle cx="350.4" cy="399.0" r="1.25"/><circle cx="340.4" cy="345.9" r="1.25"/><circle cx="342.3" cy="334.3" r="1.25"/><circle cx="348.4" cy="379.3" r="1.25"/><circle cx="346.5" cy="390.2" r="1.25"/><circle cx="342.5" cy="385.3" r="1.25"/></g>
<g fill="#1a7fff"><circle cx="332.5" cy="373.1" r="1.3"/><circle cx="336.3" cy="356.5" r="1.3"/><circle cx="350.7" cy="379.0" r="1.3"/><circle cx="322.7" cy="394.3" r="1.3"/><circle cx="348.2" cy="364.2" r="1.3"/><circle cx="319.6" cy="390.7" r="1.3"/><circle cx="333.1" cy="371.1" r="1.3"/><circle cx="322.8" cy="386.5" r="1.3"/><circle cx="320.1" cy="396.6" r="1.3"/><circle cx="348.8" cy="375.4" r="1.3"/><circle cx="348.9" cy="374.1" r="1.3"/><circle cx="348.7" cy="404.7" r="1.3"/><circle cx="348.0" cy="405.3" r="1.3"/><circle cx="348.8" cy="404.8" r="1.3"/><circle cx="357.7" cy="387.1" r="1.3"/><circle cx="336.1" cy="357.5" r="1.3"/><circle cx="348.7" cy="365.6" r="1.3"/><circle cx="348.4" cy="367.2" r="1.3"/><circle cx="321.9" cy="395.7" r="1.3"/><circle cx="349.3" cy="372.9" r="1.3"/><circle cx="360.6" cy="395.1" r="1.3"/><circle cx="361.3" cy="395.4" r="1.3"/><circle cx="345.3" cy="349.7" r="1.3"/><circle cx="336.5" cy="356.0" r="1.3"/><circle cx="333.2" cy="364.3" r="1.3"/><circle cx="326.9" cy="382.2" r="1.3"/><circle cx="321.2" cy="393.7" r="1.3"/><circle cx="357.0" cy="384.2" r="1.3"/><circle cx="321.5" cy="397.6" r="1.3"/><circle cx="324.0" cy="383.9" r="1.3"/><circle cx="319.9" cy="395.3" r="1.3"/><circle cx="322.8" cy="388.8" r="1.3"/><circle cx="325.3" cy="382.8" r="1.3"/><circle cx="359.0" cy="396.2" r="1.3"/><circle cx="337.0" cy="331.6" r="1.3"/><circle cx="344.1" cy="346.1" r="1.3"/><circle cx="346.8" cy="361.8" r="1.3"/><circle cx="344.5" cy="352.0" r="1.3"/></g>
<ellipse cx="340.6" cy="296.5" rx="1.8" ry="1.8" fill="#1a7fff"/>
<ellipse cx="340.6" cy="311.2" rx="1.8" ry="1.8" fill="#1a7fff"/>
<ellipse cx="340.6" cy="322.6" rx="1.8" ry="1.8" fill="#1a7fff"/>
<line x1="321.83" y1="387.6" x2="359.37" y2="387.6" stroke="#1a1a1a" stroke-width="0.6" opacity="0.8" stroke-dasharray="1.5 1"/>
<line x1="320.65" y1="395.8" x2="360.55" y2="395.8" stroke="#1a1a1a" stroke-width="0.6" opacity="0.8"/>
<line x1="406" y1="308.4" x2="406" y2="364" stroke="#111" stroke-width="1.05"/>
<path d="M406.80 362.00C407.20 362.33 408.78 363.00 409.20 364.00C409.62 365.00 409.25 366.60 409.30 368.00C409.35 369.40 408.97 370.43 409.50 372.40C410.03 374.37 410.83 377.63 412.50 379.80C414.17 381.97 417.42 383.53 419.50 385.40C421.58 387.27 423.62 389.13 425.00 391.00C426.38 392.87 428.22 394.77 427.80 396.60C427.38 398.43 424.38 400.22 422.50 402.00C420.62 403.78 417.50 406.42 416.50 407.30L395.50 407.30C394.50 406.42 391.38 403.78 389.50 402.00C387.62 400.22 384.62 398.43 384.20 396.60C383.78 394.77 385.62 392.87 387.00 391.00C388.38 389.13 390.42 387.27 392.50 385.40C394.58 383.53 397.83 381.97 399.50 379.80C401.17 377.63 401.97 374.37 402.50 372.40C403.03 370.43 402.65 369.40 402.70 368.00C402.75 366.60 402.38 365.00 402.80 364.00C403.22 363.00 404.80 362.33 405.20 362.00Z" fill="#ea2410" stroke="#111" stroke-width="0.85"/>
<g fill="#b81808" opacity="0.6"><circle cx="403.6" cy="372.7" r="1.25"/><circle cx="402.1" cy="379.9" r="1.25"/><circle cx="405.5" cy="365.0" r="1.25"/><circle cx="413.5" cy="403.6" r="1.25"/><circle cx="395.7" cy="396.7" r="1.25"/><circle cx="400.5" cy="386.3" r="1.25"/><circle cx="403.7" cy="369.8" r="1.25"/><circle cx="408.5" cy="371.7" r="1.25"/><circle cx="415.9" cy="399.6" r="1.25"/><circle cx="395.5" cy="398.3" r="1.25"/><circle cx="407.1" cy="376.0" r="1.25"/><circle cx="418.7" cy="395.2" r="1.25"/><circle cx="394.3" cy="401.9" r="1.25"/><circle cx="411.1" cy="389.4" r="1.25"/><circle cx="398.9" cy="384.9" r="1.25"/><circle cx="398.3" cy="383.5" r="1.25"/><circle cx="414.6" cy="404.3" r="1.25"/><circle cx="400.9" cy="386.8" r="1.25"/><circle cx="407.9" cy="403.2" r="1.25"/><circle cx="415.8" cy="402.0" r="1.25"/><circle cx="404.1" cy="385.0" r="1.25"/><circle cx="404.0" cy="389.1" r="1.25"/><circle cx="404.9" cy="369.3" r="1.25"/><circle cx="390.8" cy="398.8" r="1.25"/><circle cx="406.7" cy="364.1" r="1.25"/><circle cx="406.3" cy="374.7" r="1.25"/><circle cx="403.1" cy="383.3" r="1.25"/><circle cx="400.5" cy="407.2" r="1.25"/><circle cx="402.1" cy="380.7" r="1.25"/><circle cx="398.9" cy="390.7" r="1.25"/><circle cx="408.4" cy="378.1" r="1.25"/><circle cx="406.5" cy="376.5" r="1.25"/><circle cx="395.5" cy="403.0" r="1.25"/><circle cx="404.5" cy="364.8" r="1.25"/><circle cx="410.3" cy="396.7" r="1.25"/><circle cx="405.0" cy="372.8" r="1.25"/><circle cx="405.8" cy="370.0" r="1.25"/><circle cx="407.0" cy="363.9" r="1.25"/><circle cx="418.2" cy="402.6" r="1.25"/><circle cx="422.5" cy="395.3" r="1.25"/><circle cx="405.4" cy="362.8" r="1.25"/><circle cx="411.7" cy="405.8" r="1.25"/><circle cx="411.6" cy="380.6" r="1.25"/><circle cx="415.8" cy="390.1" r="1.25"/><circle cx="403.5" cy="375.3" r="1.25"/><circle cx="400.2" cy="382.1" r="1.25"/><circle cx="410.9" cy="379.3" r="1.25"/><circle cx="401.5" cy="377.0" r="1.25"/><circle cx="404.2" cy="364.0" r="1.25"/><circle cx="401.1" cy="397.5" r="1.25"/><circle cx="402.8" cy="375.2" r="1.25"/><circle cx="404.5" cy="406.5" r="1.25"/><circle cx="403.4" cy="371.4" r="1.25"/><circle cx="404.2" cy="364.5" r="1.25"/><circle cx="394.2" cy="392.7" r="1.25"/><circle cx="406.0" cy="363.9" r="1.25"/><circle cx="409.3" cy="373.3" r="1.25"/><circle cx="406.2" cy="367.5" r="1.25"/><circle cx="402.7" cy="397.1" r="1.25"/><circle cx="405.6" cy="406.7" r="1.25"/><circle cx="405.4" cy="373.0" r="1.25"/><circle cx="405.6" cy="363.7" r="1.25"/><circle cx="408.5" cy="373.3" r="1.25"/><circle cx="406.0" cy="399.6" r="1.25"/><circle cx="404.9" cy="363.4" r="1.25"/><circle cx="404.1" cy="373.0" r="1.25"/><circle cx="408.2" cy="372.5" r="1.25"/><circle cx="403.5" cy="368.4" r="1.25"/><circle cx="407.6" cy="404.0" r="1.25"/><circle cx="404.2" cy="406.9" r="1.25"/><circle cx="410.1" cy="402.8" r="1.25"/><circle cx="414.6" cy="397.8" r="1.25"/><circle cx="397.5" cy="384.4" r="1.25"/><circle cx="408.2" cy="371.6" r="1.25"/><circle cx="417.3" cy="402.8" r="1.25"/><circle cx="407.5" cy="377.2" r="1.25"/><circle cx="410.9" cy="398.2" r="1.25"/><circle cx="406.9" cy="398.9" r="1.25"/><circle cx="412.1" cy="391.7" r="1.25"/><circle cx="409.0" cy="374.2" r="1.25"/><circle cx="396.8" cy="405.3" r="1.25"/><circle cx="415.4" cy="406.0" r="1.25"/><circle cx="390.8" cy="392.3" r="1.25"/><circle cx="396.1" cy="402.7" r="1.25"/><circle cx="409.4" cy="405.9" r="1.25"/><circle cx="404.2" cy="364.7" r="1.25"/><circle cx="408.2" cy="390.8" r="1.25"/><circle cx="421.6" cy="395.8" r="1.25"/><circle cx="403.1" cy="371.9" r="1.25"/><circle cx="394.0" cy="403.8" r="1.25"/></g>
<g fill="#ea2410"><circle cx="390.7" cy="401.7" r="1.3"/><circle cx="427.1" cy="396.9" r="1.3"/><circle cx="392.9" cy="386.9" r="1.3"/><circle cx="423.4" cy="389.6" r="1.3"/><circle cx="398.2" cy="381.9" r="1.3"/><circle cx="421.8" cy="388.9" r="1.3"/><circle cx="402.6" cy="373.6" r="1.3"/><circle cx="391.1" cy="401.8" r="1.3"/><circle cx="401.1" cy="377.7" r="1.3"/><circle cx="418.9" cy="386.6" r="1.3"/><circle cx="416.4" cy="406.2" r="1.3"/><circle cx="416.2" cy="384.0" r="1.3"/><circle cx="422.8" cy="390.1" r="1.3"/><circle cx="413.6" cy="381.7" r="1.3"/><circle cx="390.3" cy="401.9" r="1.3"/><circle cx="418.9" cy="404.1" r="1.3"/><circle cx="387.6" cy="398.2" r="1.3"/><circle cx="425.0" cy="394.0" r="1.3"/><circle cx="400.7" cy="377.3" r="1.3"/><circle cx="401.4" cy="376.1" r="1.3"/><circle cx="425.2" cy="394.4" r="1.3"/><circle cx="419.4" cy="385.6" r="1.3"/><circle cx="400.2" cy="378.2" r="1.3"/><circle cx="388.7" cy="390.4" r="1.3"/><circle cx="410.9" cy="376.2" r="1.3"/><circle cx="420.9" cy="387.7" r="1.3"/></g>
<ellipse cx="406" cy="314.9" rx="1.8" ry="1.8" fill="#ea2410"/>
<line x1="385.29" y1="396.6" x2="426.71" y2="396.6" stroke="#1a1a1a" stroke-width="0.6" opacity="0.8" stroke-dasharray="1.5 1"/>
<line x1="387.95" y1="391" x2="424.05" y2="391" stroke="#1a1a1a" stroke-width="0.6" opacity="0.8"/>
<line x1="390.32" y1="402" x2="421.68" y2="402" stroke="#1a1a1a" stroke-width="0.6" opacity="0.8"/>
<line x1="513.5" y1="268" x2="513.5" y2="407.3" stroke="#222" stroke-width="1.5"/>
<line x1="512.75" y1="407.3" x2="668.6" y2="407.3" stroke="#111" stroke-width="1.5"/>
<line x1="508.7" y1="407.30" x2="513.5" y2="407.30" stroke="#222" stroke-width="1.3"/>
<text x="506.7" y="410.29" font-size="8.3" font-weight="bold" text-anchor="end" fill="#111">0</text>
<line x1="508.7" y1="379.54" x2="513.5" y2="379.54" stroke="#222" stroke-width="1.3"/>
<text x="506.7" y="382.53" font-size="8.3" font-weight="bold" text-anchor="end" fill="#111">200</text>
<line x1="508.7" y1="351.78" x2="513.5" y2="351.78" stroke="#222" stroke-width="1.3"/>
<text x="506.7" y="354.77" font-size="8.3" font-weight="bold" text-anchor="end" fill="#111">400</text>
<line x1="508.7" y1="324.02" x2="513.5" y2="324.02" stroke="#222" stroke-width="1.3"/>
<text x="506.7" y="327.01" font-size="8.3" font-weight="bold" text-anchor="end" fill="#111">600</text>
<line x1="508.7" y1="296.26" x2="513.5" y2="296.26" stroke="#222" stroke-width="1.3"/>
<text x="506.7" y="299.25" font-size="8.3" font-weight="bold" text-anchor="end" fill="#111">800</text>
<line x1="508.7" y1="268.50" x2="513.5" y2="268.50" stroke="#222" stroke-width="1.3"/>
<text x="506.7" y="271.49" font-size="8.3" font-weight="bold" text-anchor="end" fill="#111">1000</text>
<line x1="557.5" y1="407.3" x2="557.5" y2="411.8" stroke="#111" stroke-width="1.3"/>
<line x1="624.2" y1="407.3" x2="624.2" y2="411.8" stroke="#111" stroke-width="1.3"/>
<text transform="translate(472.6,338) rotate(-90)" font-size="9" font-weight="bold" text-anchor="middle" fill="#111">TGF-β3</text>
<text transform="translate(485,338) rotate(-90)" font-size="9" font-weight="bold" text-anchor="middle" fill="#111">(pg/gram wet weight plaque)</text>
<text transform="translate(555.7,426.6) scale(0.926,1)" font-size="9.94" font-weight="bold" text-anchor="middle" fill="#111" stroke="#111" stroke-width="0.3">No diabetes</text>
<text transform="translate(624.6,426.6) scale(0.926,1)" font-size="9.94" font-weight="bold" text-anchor="middle" fill="#111" stroke="#111" stroke-width="0.3">Type 2 diabetes</text>
<path d="M557.5 318.8V283.4H624.2V290" stroke="#000" stroke-width="1.25" fill="none"/>
<text x="591" y="278" font-size="8.8" text-anchor="middle" fill="#111">0.00000001</text>
<line x1="557.5" y1="325.4" x2="557.5" y2="370" stroke="#111" stroke-width="1.05"/>
<path d="M558.30 366.00C558.53 366.33 559.43 367.00 559.70 368.00C559.97 369.00 559.80 370.67 559.90 372.00C560.00 373.33 560.03 374.83 560.30 376.00C560.57 377.17 561.00 378.12 561.50 379.00C562.00 379.88 562.72 380.38 563.30 381.30C563.88 382.22 564.50 383.47 565.00 384.50C565.50 385.53 565.88 386.58 566.30 387.50C566.72 388.42 566.97 389.25 567.50 390.00C568.03 390.75 568.50 391.25 569.50 392.00C570.50 392.75 572.17 393.72 573.50 394.50C574.83 395.28 576.53 395.83 577.50 396.70C578.47 397.57 579.63 398.82 579.30 399.70C578.97 400.58 576.58 401.35 575.50 402.00C574.42 402.65 574.08 402.70 572.80 403.60C571.52 404.50 568.63 406.77 567.80 407.40L547.20 407.40C546.37 406.77 543.48 404.50 542.20 403.60C540.92 402.70 540.58 402.65 539.50 402.00C538.42 401.35 536.03 400.58 535.70 399.70C535.37 398.82 536.53 397.57 537.50 396.70C538.47 395.83 540.17 395.28 541.50 394.50C542.83 393.72 544.50 392.75 545.50 392.00C546.50 391.25 546.97 390.75 547.50 390.00C548.03 389.25 548.28 388.42 548.70 387.50C549.12 386.58 549.50 385.53 550.00 384.50C550.50 383.47 551.12 382.22 551.70 381.30C552.28 380.38 553.00 379.88 553.50 379.00C554.00 378.12 554.43 377.17 554.70 376.00C554.97 374.83 555.00 373.33 555.10 372.00C555.20 370.67 555.03 369.00 555.30 368.00C555.57 367.00 556.47 366.33 556.70 366.00Z" fill="#1a7fff" stroke="#111" stroke-width="0.85"/>
<g fill="#0a3cff" opacity="0.6"><circle cx="562.3" cy="391.8" r="1.25"/><circle cx="573.5" cy="398.9" r="1.25"/><circle cx="571.8" cy="396.6" r="1.25"/><circle cx="557.4" cy="367.2" r="1.25"/><circle cx="560.9" cy="405.1" r="1.25"/><circle cx="547.1" cy="403.3" r="1.25"/><circle cx="554.1" cy="385.4" r="1.25"/><circle cx="558.7" cy="388.5" r="1.25"/><circle cx="556.9" cy="366.5" r="1.25"/><circle cx="559.9" cy="377.6" r="1.25"/><circle cx="545.6" cy="397.7" r="1.25"/><circle cx="544.4" cy="399.0" r="1.25"/><circle cx="550.2" cy="391.6" r="1.25"/><circle cx="558.0" cy="366.1" r="1.25"/><circle cx="556.2" cy="374.7" r="1.25"/><circle cx="564.6" cy="406.7" r="1.25"/><circle cx="560.3" cy="378.0" r="1.25"/><circle cx="560.3" cy="388.3" r="1.25"/><circle cx="559.5" cy="374.5" r="1.25"/><circle cx="570.3" cy="394.6" r="1.25"/><circle cx="551.9" cy="403.0" r="1.25"/><circle cx="554.4" cy="381.0" r="1.25"/><circle cx="555.7" cy="372.0" r="1.25"/><circle cx="558.2" cy="378.5" r="1.25"/><circle cx="557.8" cy="366.1" r="1.25"/><circle cx="556.0" cy="380.0" r="1.25"/><circle cx="556.8" cy="399.9" r="1.25"/><circle cx="557.4" cy="379.1" r="1.25"/><circle cx="544.5" cy="395.2" r="1.25"/><circle cx="548.0" cy="406.4" r="1.25"/><circle cx="569.3" cy="397.0" r="1.25"/><circle cx="558.1" cy="366.7" r="1.25"/><circle cx="558.3" cy="381.2" r="1.25"/><circle cx="556.7" cy="366.4" r="1.25"/><circle cx="559.5" cy="373.5" r="1.25"/><circle cx="558.6" cy="374.1" r="1.25"/><circle cx="568.1" cy="404.5" r="1.25"/><circle cx="556.3" cy="380.3" r="1.25"/><circle cx="561.7" cy="387.7" r="1.25"/><circle cx="558.5" cy="370.5" r="1.25"/><circle cx="570.6" cy="399.0" r="1.25"/><circle cx="558.9" cy="367.5" r="1.25"/><circle cx="556.9" cy="369.8" r="1.25"/><circle cx="565.5" cy="391.3" r="1.25"/><circle cx="561.0" cy="380.1" r="1.25"/><circle cx="554.5" cy="388.6" r="1.25"/><circle cx="555.3" cy="379.1" r="1.25"/><circle cx="556.1" cy="369.2" r="1.25"/><circle cx="571.1" cy="394.5" r="1.25"/><circle cx="555.6" cy="372.7" r="1.25"/><circle cx="558.1" cy="406.8" r="1.25"/><circle cx="554.6" cy="382.8" r="1.25"/><circle cx="563.4" cy="390.6" r="1.25"/><circle cx="556.5" cy="384.9" r="1.25"/><circle cx="559.1" cy="368.3" r="1.25"/><circle cx="557.5" cy="367.4" r="1.25"/><circle cx="544.9" cy="400.7" r="1.25"/><circle cx="572.2" cy="396.3" r="1.25"/><circle cx="563.5" cy="392.1" r="1.25"/><circle cx="557.2" cy="370.4" r="1.25"/></g>
<g fill="#1a7fff"><circle cx="574.7" cy="401.0" r="1.3"/><circle cx="543.0" cy="404.2" r="1.3"/><circle cx="564.8" cy="384.8" r="1.3"/><circle cx="561.2" cy="379.2" r="1.3"/><circle cx="551.8" cy="382.7" r="1.3"/><circle cx="537.4" cy="400.0" r="1.3"/><circle cx="564.9" cy="386.7" r="1.3"/><circle cx="564.6" cy="386.4" r="1.3"/><circle cx="577.9" cy="398.9" r="1.3"/><circle cx="570.5" cy="393.5" r="1.3"/><circle cx="574.3" cy="395.2" r="1.3"/><circle cx="568.8" cy="406.6" r="1.3"/><circle cx="553.0" cy="380.1" r="1.3"/><circle cx="565.9" cy="388.6" r="1.3"/><circle cx="565.1" cy="386.7" r="1.3"/></g>
<ellipse cx="557.5" cy="331.5" rx="1.8" ry="1.8" fill="#1a7fff"/>
<ellipse cx="557.5" cy="344.2" rx="1.8" ry="1.8" fill="#1a7fff"/>
<ellipse cx="557.5" cy="351.7" rx="1.8" ry="1.8" fill="#1a7fff"/>
<ellipse cx="557.5" cy="366" rx="1.8" ry="1.8" fill="#1a7fff"/>
<line x1="538.50" y1="396.7" x2="576.50" y2="396.7" stroke="#1a1a1a" stroke-width="0.6" opacity="0.8" stroke-dasharray="1.5 1"/>
<line x1="549.14" y1="387.5" x2="565.86" y2="387.5" stroke="#1a1a1a" stroke-width="0.6" opacity="0.8"/>
<line x1="536.79" y1="399.7" x2="578.21" y2="399.7" stroke="#1a1a1a" stroke-width="0.6" opacity="0.8"/>
<line x1="624.2" y1="297" x2="624.2" y2="389" stroke="#111" stroke-width="1.05"/>
<path d="M625.00 387.00C625.28 387.33 626.25 388.17 626.70 389.00C627.15 389.83 627.03 391.08 627.70 392.00C628.37 392.92 629.45 393.75 630.70 394.50C631.95 395.25 633.37 395.78 635.20 396.50C637.03 397.22 640.03 398.05 641.70 398.80C643.37 399.55 644.40 400.27 645.20 401.00C646.00 401.73 646.42 402.53 646.50 403.20C646.58 403.87 646.00 404.45 645.70 405.00C645.40 405.55 645.45 406.03 644.70 406.50C643.95 406.97 641.78 407.58 641.20 407.80L607.20 407.80C606.62 407.58 604.45 406.97 603.70 406.50C602.95 406.03 603.00 405.55 602.70 405.00C602.40 404.45 601.82 403.87 601.90 403.20C601.98 402.53 602.40 401.73 603.20 401.00C604.00 400.27 605.03 399.55 606.70 398.80C608.37 398.05 611.37 397.22 613.20 396.50C615.03 395.78 616.45 395.25 617.70 394.50C618.95 393.75 620.03 392.92 620.70 392.00C621.37 391.08 621.25 389.83 621.70 389.00C622.15 388.17 623.12 387.33 623.40 387.00Z" fill="#ea2410" stroke="#111" stroke-width="0.85"/>
<g fill="#b81808" opacity="0.6"><circle cx="636.3" cy="403.5" r="1.25"/><circle cx="619.1" cy="397.1" r="1.25"/><circle cx="624.4" cy="387.0" r="1.25"/><circle cx="629.4" cy="396.8" r="1.25"/><circle cx="627.5" cy="394.8" r="1.25"/><circle cx="626.4" cy="392.7" r="1.25"/><circle cx="621.0" cy="402.2" r="1.25"/><circle cx="629.1" cy="398.2" r="1.25"/><circle cx="624.5" cy="391.0" r="1.25"/><circle cx="615.4" cy="403.7" r="1.25"/><circle cx="631.2" cy="403.7" r="1.25"/><circle cx="618.1" cy="404.6" r="1.25"/><circle cx="625.4" cy="388.9" r="1.25"/><circle cx="622.1" cy="403.7" r="1.25"/><circle cx="622.9" cy="389.0" r="1.25"/><circle cx="617.2" cy="400.2" r="1.25"/><circle cx="627.2" cy="406.8" r="1.25"/><circle cx="625.1" cy="391.2" r="1.25"/><circle cx="629.0" cy="394.5" r="1.25"/><circle cx="624.7" cy="405.9" r="1.25"/><circle cx="630.9" cy="400.4" r="1.25"/><circle cx="642.1" cy="403.8" r="1.25"/><circle cx="623.9" cy="387.6" r="1.25"/><circle cx="618.0" cy="399.5" r="1.25"/><circle cx="611.5" cy="399.3" r="1.25"/><circle cx="625.1" cy="405.3" r="1.25"/><circle cx="624.9" cy="389.4" r="1.25"/><circle cx="621.5" cy="393.5" r="1.25"/><circle cx="616.5" cy="397.1" r="1.25"/><circle cx="626.2" cy="391.4" r="1.25"/><circle cx="606.5" cy="401.5" r="1.25"/><circle cx="605.9" cy="403.2" r="1.25"/><circle cx="628.2" cy="393.9" r="1.25"/><circle cx="617.9" cy="399.9" r="1.25"/><circle cx="622.8" cy="394.9" r="1.25"/><circle cx="626.5" cy="389.6" r="1.25"/><circle cx="624.0" cy="388.1" r="1.25"/><circle cx="620.4" cy="402.5" r="1.25"/><circle cx="616.4" cy="407.4" r="1.25"/><circle cx="636.3" cy="407.4" r="1.25"/><circle cx="638.0" cy="400.9" r="1.25"/><circle cx="630.1" cy="396.3" r="1.25"/><circle cx="624.8" cy="403.6" r="1.25"/><circle cx="628.3" cy="396.8" r="1.25"/><circle cx="618.0" cy="395.5" r="1.25"/><circle cx="615.5" cy="402.5" r="1.25"/><circle cx="630.4" cy="397.1" r="1.25"/><circle cx="621.7" cy="390.6" r="1.25"/><circle cx="624.6" cy="389.6" r="1.25"/><circle cx="621.5" cy="394.5" r="1.25"/></g>
<g fill="#ea2410"><circle cx="634.9" cy="396.4" r="1.3"/><circle cx="643.6" cy="406.3" r="1.3"/><circle cx="628.2" cy="392.6" r="1.3"/><circle cx="636.3" cy="397.2" r="1.3"/><circle cx="641.9" cy="400.2" r="1.3"/><circle cx="643.8" cy="400.7" r="1.3"/><circle cx="628.3" cy="392.5" r="1.3"/><circle cx="602.7" cy="402.2" r="1.3"/><circle cx="619.7" cy="393.0" r="1.3"/><circle cx="608.0" cy="407.1" r="1.3"/><circle cx="603.0" cy="403.1" r="1.3"/><circle cx="631.0" cy="394.7" r="1.3"/><circle cx="606.0" cy="406.7" r="1.3"/><circle cx="643.4" cy="403.3" r="1.3"/></g>
<ellipse cx="624.2" cy="300.7" rx="1.8" ry="1.8" fill="#ea2410"/>
<ellipse cx="624.2" cy="385.1" rx="1.8" ry="1.8" fill="#ea2410"/>
<line x1="604.25" y1="401" x2="644.15" y2="401" stroke="#1a1a1a" stroke-width="0.6" opacity="0.8" stroke-dasharray="1.5 1"/>
<line x1="607.58" y1="398.8" x2="640.83" y2="398.8" stroke="#1a1a1a" stroke-width="0.6" opacity="0.8"/>
<line x1="603.56" y1="404.5" x2="644.84" y2="404.5" stroke="#1a1a1a" stroke-width="0.6" opacity="0.8"/>
<line x1="77.4" y1="463.8" x2="77.4" y2="600.2" stroke="#222" stroke-width="1.5"/>
<line x1="76.65" y1="600.2" x2="215.1" y2="600.2" stroke="#111" stroke-width="1.5"/>
<line x1="74.80000000000001" y1="600.20" x2="77.4" y2="600.20" stroke="#222" stroke-width="1.3"/>
<text x="73.0" y="602.86" font-size="7.4" font-weight="bold" text-anchor="end" fill="#111">0</text>
<line x1="74.80000000000001" y1="554.90" x2="77.4" y2="554.90" stroke="#222" stroke-width="1.3"/>
<text x="73.0" y="557.56" font-size="7.4" font-weight="bold" text-anchor="end" fill="#111">50000</text>
<line x1="74.80000000000001" y1="509.60" x2="77.4" y2="509.60" stroke="#222" stroke-width="1.3"/>
<text x="73.0" y="512.26" font-size="7.4" font-weight="bold" text-anchor="end" fill="#111">100000</text>
<line x1="74.80000000000001" y1="464.30" x2="77.4" y2="464.30" stroke="#222" stroke-width="1.3"/>
<text x="73.0" y="466.96" font-size="7.4" font-weight="bold" text-anchor="end" fill="#111">150000</text>
<line x1="116.8" y1="600.2" x2="116.8" y2="604.7" stroke="#111" stroke-width="1.3"/>
<line x1="176.3" y1="600.2" x2="176.3" y2="604.7" stroke="#111" stroke-width="1.3"/>
<text transform="translate(34.6,532) rotate(-90)" font-size="8.0" font-weight="bold" text-anchor="middle" fill="#111">TGF-β1 in plaque cell supernatant</text>
<text transform="translate(45.2,532) rotate(-90)" font-size="8.0" font-weight="bold" text-anchor="middle" fill="#111">(pg/g total proteins)</text>
<text transform="translate(109,617.2) scale(0.926,1)" font-size="9.94" font-weight="bold" text-anchor="middle" fill="#111" stroke="#111" stroke-width="0.3">No diabetes</text>
<text transform="translate(178.5,617.2) scale(0.926,1)" font-size="9.94" font-weight="bold" text-anchor="middle" fill="#111" stroke="#111" stroke-width="0.3">Type 2 diabetes</text>
<path d="M116.8 498.3V492.3H176.4V535" stroke="#000" stroke-width="1.25" fill="none"/>
<text x="146.9" y="486.8" font-size="7.9" text-anchor="middle" fill="#111">0.0035</text>
<line x1="117.1" y1="502.8" x2="117.1" y2="506" stroke="#111" stroke-width="1.2"/>
<line x1="117.1" y1="549" x2="117.1" y2="554.6" stroke="#111" stroke-width="1.2"/>
<path d="M117.10 503.80C117.18 504.17 117.33 505.30 117.60 506.00C117.87 506.70 118.18 507.35 118.70 508.00C119.22 508.65 119.88 509.23 120.70 509.90C121.52 510.57 122.62 511.23 123.60 512.00C124.58 512.77 125.92 513.68 126.60 514.50C127.28 515.32 127.70 516.15 127.70 516.90C127.70 517.65 126.95 518.27 126.60 519.00C126.25 519.73 125.35 520.55 125.60 521.30C125.85 522.05 127.10 522.77 128.10 523.50C129.10 524.23 130.43 524.87 131.60 525.70C132.77 526.53 134.28 527.68 135.10 528.50C135.92 529.32 136.83 529.85 136.50 530.60C136.17 531.35 134.22 532.07 133.10 533.00C131.98 533.93 130.55 535.28 129.80 536.20C129.05 537.12 128.88 537.78 128.60 538.50C128.32 539.22 128.52 539.75 128.10 540.50C127.68 541.25 126.98 542.12 126.10 543.00C125.22 543.88 123.88 544.88 122.80 545.80C121.72 546.72 120.55 547.63 119.60 548.50C118.65 549.37 117.52 550.58 117.10 551.00L117.10 551.00C116.68 550.58 115.55 549.37 114.60 548.50C113.65 547.63 112.48 546.72 111.40 545.80C110.32 544.88 108.98 543.88 108.10 543.00C107.22 542.12 106.52 541.25 106.10 540.50C105.68 539.75 105.88 539.22 105.60 538.50C105.32 537.78 105.15 537.12 104.40 536.20C103.65 535.28 102.22 533.93 101.10 533.00C99.98 532.07 98.03 531.35 97.70 530.60C97.37 529.85 98.28 529.32 99.10 528.50C99.92 527.68 101.43 526.53 102.60 525.70C103.77 524.87 105.10 524.23 106.10 523.50C107.10 522.77 108.35 522.05 108.60 521.30C108.85 520.55 107.95 519.73 107.60 519.00C107.25 518.27 106.50 517.65 106.50 516.90C106.50 516.15 106.92 515.32 107.60 514.50C108.28 513.68 109.62 512.77 110.60 512.00C111.58 511.23 112.68 510.57 113.50 509.90C114.32 509.23 114.98 508.65 115.50 508.00C116.02 507.35 116.33 506.70 116.60 506.00C116.87 505.30 117.02 504.17 117.10 503.80Z" fill="#0a2ff5" stroke="#111" stroke-width="1"/>
<line x1="108.6" y1="520.4" x2="125.6" y2="520.4" stroke="#111" stroke-width="0.9" stroke-dasharray="1 1"/>
<line x1="97.69999999999999" y1="530.6" x2="136.5" y2="530.6" stroke="#111" stroke-width="0.9" stroke-dasharray="2.5 1.2"/>
<line x1="105.6" y1="538.8" x2="128.6" y2="538.8" stroke="#111" stroke-width="0.9" stroke-dasharray="1 1"/>
<circle cx="117.1" cy="517.4" r="2.1" fill="#1a8cff"/>
<circle cx="113" cy="528.3" r="2.1" fill="#1a8cff"/>
<circle cx="120.9" cy="532.1" r="2.1" fill="#1a8cff"/>
<circle cx="117.1" cy="540.9" r="2.1" fill="#1a8cff"/>
<line x1="176.5" y1="570" x2="176.5" y2="574" stroke="#111" stroke-width="1.2"/>
<path d="M176.50 540.90C176.83 541.17 177.67 541.90 178.50 542.50C179.33 543.10 180.52 543.65 181.50 544.50C182.48 545.35 183.57 546.52 184.40 547.60C185.23 548.68 185.65 550.02 186.50 551.00C187.35 551.98 187.95 552.55 189.50 553.50C191.05 554.45 195.80 555.78 195.80 556.70C195.80 557.62 191.05 558.18 189.50 559.00C187.95 559.82 187.25 560.77 186.50 561.60C185.75 562.43 185.42 563.13 185.00 564.00C184.58 564.87 184.83 565.88 184.00 566.80C183.17 567.72 181.25 568.62 180.00 569.50C178.75 570.38 177.08 571.67 176.50 572.10L176.50 572.10C175.92 571.67 174.25 570.38 173.00 569.50C171.75 568.62 169.83 567.72 169.00 566.80C168.17 565.88 168.42 564.87 168.00 564.00C167.58 563.13 167.25 562.43 166.50 561.60C165.75 560.77 165.05 559.82 163.50 559.00C161.95 558.18 157.20 557.62 157.20 556.70C157.20 555.78 161.95 554.45 163.50 553.50C165.05 552.55 165.65 551.98 166.50 551.00C167.35 550.02 167.77 548.68 168.60 547.60C169.43 546.52 170.52 545.35 171.50 544.50C172.48 543.65 173.67 543.10 174.50 542.50C175.33 541.90 176.17 541.17 176.50 540.90Z" fill="#ff300e" stroke="#111" stroke-width="1"/>
<line x1="166.5" y1="551" x2="186.5" y2="551" stroke="#111" stroke-width="0.9" stroke-dasharray="1 1"/>
<line x1="157.5" y1="556.7" x2="195.5" y2="556.7" stroke="#111" stroke-width="0.9" stroke-dasharray="2.5 1.2"/>
<line x1="167.0" y1="562.5" x2="186.0" y2="562.5" stroke="#111" stroke-width="0.9" stroke-dasharray="1 1"/>
<circle cx="176.5" cy="548.5" r="2.1" fill="#d82a10"/>
<circle cx="173" cy="556.5" r="2.1" fill="#d82a10"/>
<circle cx="180" cy="556.5" r="2.1" fill="#d82a10"/>
<circle cx="176.5" cy="565" r="2.1" fill="#d82a10"/>
<line x1="299.5" y1="463" x2="299.5" y2="599.8" stroke="#222" stroke-width="1.5"/>
<line x1="298.75" y1="599.8" x2="443.2" y2="599.8" stroke="#111" stroke-width="1.5"/>
<line x1="296.9" y1="599.80" x2="299.5" y2="599.80" stroke="#222" stroke-width="1.3"/>
<text x="295.1" y="602.28" font-size="6.9" font-weight="bold" text-anchor="end" fill="#111">0</text>
<line x1="296.9" y1="554.37" x2="299.5" y2="554.37" stroke="#222" stroke-width="1.3"/>
<text x="295.1" y="556.85" font-size="6.9" font-weight="bold" text-anchor="end" fill="#111">500000</text>
<line x1="296.9" y1="508.93" x2="299.5" y2="508.93" stroke="#222" stroke-width="1.3"/>
<text x="295.1" y="511.42" font-size="6.9" font-weight="bold" text-anchor="end" fill="#111">1000000</text>
<line x1="296.9" y1="463.50" x2="299.5" y2="463.50" stroke="#222" stroke-width="1.3"/>
<text x="295.1" y="465.98" font-size="6.9" font-weight="bold" text-anchor="end" fill="#111">1500000</text>
<line x1="340.7" y1="599.8" x2="340.7" y2="604.3" stroke="#111" stroke-width="1.3"/>
<line x1="402.3" y1="599.8" x2="402.3" y2="604.3" stroke="#111" stroke-width="1.3"/>
<text transform="translate(251.1,532) rotate(-90)" font-size="8.0" font-weight="bold" text-anchor="middle" fill="#111">TGF-β2 in plaque cell supernatant</text>
<text transform="translate(261.3,532) rotate(-90)" font-size="8.0" font-weight="bold" text-anchor="middle" fill="#111">(pg/g total proteins)</text>
<text transform="translate(333.1,617.2) scale(0.926,1)" font-size="9.94" font-weight="bold" text-anchor="middle" fill="#111" stroke="#111" stroke-width="0.3">No diabetes</text>
<text transform="translate(402.3,617.2) scale(0.926,1)" font-size="9.94" font-weight="bold" text-anchor="middle" fill="#111" stroke="#111" stroke-width="0.3">Type 2 diabetes</text>
<path d="M340.7 492V484.3H402.3V571.5" stroke="#000" stroke-width="1.25" fill="none"/>
<text x="371" y="479.5" font-size="7.9" text-anchor="middle" fill="#111">0.0000136</text>
<line x1="340.7" y1="493" x2="340.7" y2="496.5" stroke="#111" stroke-width="1.2"/>
<line x1="340.7" y1="541" x2="340.7" y2="545" stroke="#111" stroke-width="1.2"/>
<path d="M340.70 496.10C340.80 496.42 341.05 497.35 341.30 498.00C341.55 498.65 341.72 499.33 342.20 500.00C342.68 500.67 343.37 501.33 344.20 502.00C345.03 502.67 345.95 503.25 347.20 504.00C348.45 504.75 350.20 505.67 351.70 506.50C353.20 507.33 355.15 508.10 356.20 509.00C357.25 509.90 358.08 510.98 358.00 511.90C357.92 512.82 356.92 513.65 355.70 514.50C354.48 515.35 352.17 516.12 350.70 517.00C349.23 517.88 347.07 518.97 346.90 519.80C346.73 520.63 348.23 521.22 349.70 522.00C351.17 522.78 353.78 523.55 355.70 524.50C357.62 525.45 360.70 526.70 361.20 527.70C361.70 528.70 360.12 529.53 358.70 530.50C357.28 531.47 354.70 532.50 352.70 533.50C350.70 534.50 348.37 535.50 346.70 536.50C345.03 537.50 343.70 538.48 342.70 539.50C341.70 540.52 341.03 542.08 340.70 542.60L340.70 542.60C340.37 542.08 339.70 540.52 338.70 539.50C337.70 538.48 336.37 537.50 334.70 536.50C333.03 535.50 330.70 534.50 328.70 533.50C326.70 532.50 324.12 531.47 322.70 530.50C321.28 529.53 319.70 528.70 320.20 527.70C320.70 526.70 323.78 525.45 325.70 524.50C327.62 523.55 330.23 522.78 331.70 522.00C333.17 521.22 334.67 520.63 334.50 519.80C334.33 518.97 332.17 517.88 330.70 517.00C329.23 516.12 326.92 515.35 325.70 514.50C324.48 513.65 323.48 512.82 323.40 511.90C323.32 510.98 324.15 509.90 325.20 509.00C326.25 508.10 328.20 507.33 329.70 506.50C331.20 505.67 332.95 504.75 334.20 504.00C335.45 503.25 336.37 502.67 337.20 502.00C338.03 501.33 338.72 500.67 339.20 500.00C339.68 499.33 339.85 498.65 340.10 498.00C340.35 497.35 340.60 496.42 340.70 496.10Z" fill="#0a2ff5" stroke="#111" stroke-width="1"/>
<line x1="323.7" y1="510.7" x2="357.7" y2="510.7" stroke="#111" stroke-width="0.9" stroke-dasharray="1 1"/>
<line x1="333.7" y1="520.7" x2="347.7" y2="520.7" stroke="#111" stroke-width="0.9" stroke-dasharray="2.5 1.2"/>
<line x1="320.7" y1="528.9" x2="360.7" y2="528.9" stroke="#111" stroke-width="0.9" stroke-dasharray="1 1"/>
<circle cx="340.7" cy="509.3" r="2.1" fill="#1a8cff"/>
<circle cx="340.7" cy="514.5" r="2.1" fill="#1a8cff"/>
<circle cx="344.2" cy="526.8" r="2.1" fill="#1a8cff"/>
<circle cx="336.8" cy="529.4" r="2.1" fill="#1a8cff"/>
<path d="M402.30 576.70C402.72 576.83 403.88 577.20 404.80 577.50C405.72 577.80 406.97 578.05 407.80 578.50C408.63 578.95 409.30 579.62 409.80 580.20C410.30 580.78 409.88 581.40 410.80 582.00C411.72 582.60 413.33 583.22 415.30 583.80C417.27 584.38 422.60 584.97 422.60 585.50C422.60 586.03 417.68 586.50 415.30 587.00C412.92 587.50 410.47 587.97 408.30 588.50C406.13 589.03 403.30 589.92 402.30 590.20L402.30 590.20C401.30 589.92 398.47 589.03 396.30 588.50C394.13 587.97 391.68 587.50 389.30 587.00C386.92 586.50 382.00 586.03 382.00 585.50C382.00 584.97 387.33 584.38 389.30 583.80C391.27 583.22 392.88 582.60 393.80 582.00C394.72 581.40 394.30 580.78 394.80 580.20C395.30 579.62 395.97 578.95 396.80 578.50C397.63 578.05 398.88 577.80 399.80 577.50C400.72 577.20 401.88 576.83 402.30 576.70Z" fill="#ff300e" stroke="#111" stroke-width="1"/>
<line x1="392.3" y1="580.5" x2="412.3" y2="580.5" stroke="#111" stroke-width="0.9" stroke-dasharray="1 1"/>
<line x1="383.3" y1="585.5" x2="421.3" y2="585.5" stroke="#111" stroke-width="0.9" stroke-dasharray="2.5 1.2"/>
<circle cx="405" cy="579" r="2.1" fill="#d82a10"/>
<circle cx="399" cy="585" r="2.1" fill="#d82a10"/>
<circle cx="404" cy="586" r="2.1" fill="#d82a10"/>
<line x1="514.4" y1="463.7" x2="514.4" y2="600.2" stroke="#222" stroke-width="1.5"/>
<line x1="513.65" y1="600.2" x2="663.9" y2="600.2" stroke="#111" stroke-width="1.5"/>
<line x1="511.79999999999995" y1="600.20" x2="514.4" y2="600.20" stroke="#222" stroke-width="1.3"/>
<text x="510.0" y="602.79" font-size="7.2" font-weight="bold" text-anchor="end" fill="#111">0</text>
<line x1="511.79999999999995" y1="554.87" x2="514.4" y2="554.87" stroke="#222" stroke-width="1.3"/>
<text x="510.0" y="557.46" font-size="7.2" font-weight="bold" text-anchor="end" fill="#111">500</text>
<line x1="511.79999999999995" y1="509.53" x2="514.4" y2="509.53" stroke="#222" stroke-width="1.3"/>
<text x="510.0" y="512.13" font-size="7.2" font-weight="bold" text-anchor="end" fill="#111">1000</text>
<line x1="511.79999999999995" y1="464.20" x2="514.4" y2="464.20" stroke="#222" stroke-width="1.3"/>
<text x="510.0" y="466.79" font-size="7.2" font-weight="bold" text-anchor="end" fill="#111">1500</text>
<line x1="556.5" y1="600.2" x2="556.5" y2="604.7" stroke="#111" stroke-width="1.3"/>
<line x1="620.8" y1="600.2" x2="620.8" y2="604.7" stroke="#111" stroke-width="1.3"/>
<text transform="translate(476.1,532) rotate(-90)" font-size="8.0" font-weight="bold" text-anchor="middle" fill="#111">TGF-β3 in plaque cell supernatant</text>
<text transform="translate(486.3,532) rotate(-90)" font-size="8.0" font-weight="bold" text-anchor="middle" fill="#111">(pg/g total proteins)</text>
<text transform="translate(554.7,617.2) scale(0.926,1)" font-size="9.94" font-weight="bold" text-anchor="middle" fill="#111" stroke="#111" stroke-width="0.3">No diabetes</text>
<text transform="translate(622.9,617.2) scale(0.926,1)" font-size="9.94" font-weight="bold" text-anchor="middle" fill="#111" stroke="#111" stroke-width="0.3">Type 2 diabetes</text>
<path d="M556.5 506.6V500.9H620.8V522" stroke="#000" stroke-width="1.25" fill="none"/>
<text x="588.6" y="496" font-size="7.9" text-anchor="middle" fill="#111">0.0000007</text>
<path d="M556.50 505.80C557.33 506.17 559.50 507.30 561.50 508.00C563.50 508.70 566.42 509.27 568.50 510.00C570.58 510.73 574.00 511.60 574.00 512.40C574.00 513.20 570.25 514.00 568.50 514.80C566.75 515.60 563.17 516.45 563.50 517.20C563.83 517.95 568.12 518.58 570.50 519.30C572.88 520.02 577.80 520.72 577.80 521.50C577.80 522.28 573.22 523.17 570.50 524.00C567.78 524.83 563.83 525.68 561.50 526.50C559.17 527.32 557.33 528.50 556.50 528.90L556.50 528.90C555.67 528.50 553.83 527.32 551.50 526.50C549.17 525.68 545.22 524.83 542.50 524.00C539.78 523.17 535.20 522.28 535.20 521.50C535.20 520.72 540.12 520.02 542.50 519.30C544.88 518.58 549.17 517.95 549.50 517.20C549.83 516.45 546.25 515.60 544.50 514.80C542.75 514.00 539.00 513.20 539.00 512.40C539.00 511.60 542.42 510.73 544.50 510.00C546.58 509.27 549.50 508.70 551.50 508.00C553.50 507.30 555.67 506.17 556.50 505.80Z" fill="#0a2ff5" stroke="#111" stroke-width="1"/>
<line x1="539.5" y1="512.4" x2="573.5" y2="512.4" stroke="#111" stroke-width="0.9" stroke-dasharray="1 1"/>
<line x1="549.5" y1="517.2" x2="563.5" y2="517.2" stroke="#111" stroke-width="0.9" stroke-dasharray="2.5 1.2"/>
<line x1="535.5" y1="521.5" x2="577.5" y2="521.5" stroke="#111" stroke-width="0.9" stroke-dasharray="1 1"/>
<circle cx="552.7" cy="512.8" r="2.1" fill="#1a8cff"/>
<circle cx="560.9" cy="511.4" r="2.1" fill="#1a8cff"/>
<circle cx="553" cy="521.9" r="2.1" fill="#1a8cff"/>
<circle cx="560.6" cy="521.9" r="2.1" fill="#1a8cff"/>
<path d="M620.80 575.00C622.13 575.25 625.25 575.92 628.80 576.50C632.35 577.08 641.10 577.83 642.10 578.50C643.10 579.17 636.52 579.77 634.80 580.50C633.08 581.23 633.30 582.15 631.80 582.90C630.30 583.65 627.63 584.42 625.80 585.00C623.97 585.58 621.63 586.17 620.80 586.40L620.80 586.40C619.97 586.17 617.63 585.58 615.80 585.00C613.97 584.42 611.30 583.65 609.80 582.90C608.30 582.15 608.52 581.23 606.80 580.50C605.08 579.77 598.50 579.17 599.50 578.50C600.50 577.83 609.25 577.08 612.80 576.50C616.35 575.92 619.47 575.25 620.80 575.00Z" fill="#ff300e" stroke="#111" stroke-width="1"/>
<line x1="599.8" y1="578.5" x2="641.8" y2="578.5" stroke="#111" stroke-width="0.9" stroke-dasharray="2.5 1.2"/>
<line x1="609.8" y1="581.5" x2="631.8" y2="581.5" stroke="#111" stroke-width="0.9" stroke-dasharray="1 1"/>
<circle cx="615" cy="580" r="2.1" fill="#d82a10"/>
<circle cx="626" cy="579.5" r="2.1" fill="#d82a10"/>
</svg>
</body></html>
